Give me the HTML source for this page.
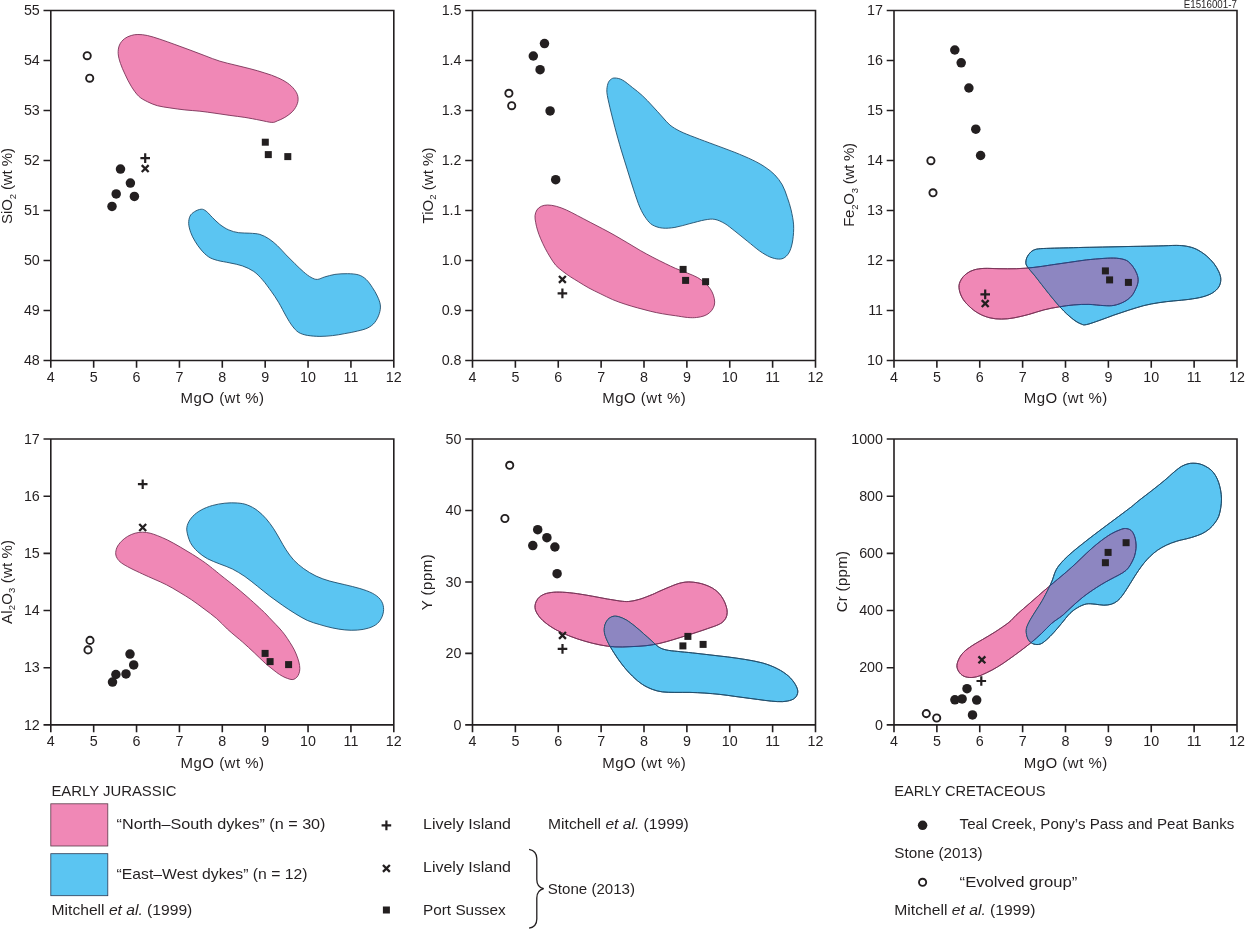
<!DOCTYPE html>
<html><head><meta charset="utf-8"><title>E1516001-7</title>
<style>html,body{margin:0;padding:0;background:#fff}svg{display:block;will-change:transform;opacity:.999}text{font-family:"Liberation Sans",sans-serif;fill:#231f20}.t{font-size:14.3px}.a{font-size:15px}.l{font-size:15px}.i{font-style:italic}</style></head><body>
<svg width="1245" height="929" viewBox="0 0 1245 929">
<rect width="1245" height="929" fill="#fff"/>
<g>
<path d="M137.9 34.5C140.6 34.5 143.8 34.7 147.4 35.5C151.1 36.3 155.3 37.7 159.9 39.2C164.5 40.7 169.9 42.7 174.9 44.5C179.9 46.3 184.9 48.1 189.9 50C194.9 51.8 199.9 53.8 204.9 55.7C209.9 57.6 214.9 59.7 219.9 61.2C224.9 62.8 229.9 63.7 234.9 65C239.9 66.2 244.9 67.4 249.9 68.7C254.9 70 260.3 71.5 264.8 73C269.4 74.4 273.6 75.8 277.3 77.5C281.1 79.1 284.5 81 287.3 82.9C290.2 84.9 292.6 87.2 294.3 89.4C296.1 91.7 297.3 93.8 297.8 96.2C298.3 98.6 298.2 101.2 297.3 103.7C296.5 106.2 294.9 108.9 292.8 111.2C290.7 113.5 287.4 115.8 284.8 117.4C282.2 119 279.5 120.1 277.3 120.9C275.2 121.8 274.8 122.5 271.8 122.4C268.9 122.3 264.3 121 259.9 120.2C255.4 119.3 249.9 118.2 244.9 117.4C239.9 116.6 234.9 116.1 229.9 115.4C224.9 114.7 219.9 113.9 214.9 113.2C209.9 112.5 204.9 111.7 199.9 111.2C194.9 110.6 189.9 110.5 184.9 109.9C179.9 109.4 174.5 108.6 169.9 107.9C165.3 107.2 161.2 106.7 157.4 105.7C153.7 104.6 150.6 103.3 147.4 101.7C144.3 100.1 141.4 98.8 138.7 96.2C136 93.6 133.5 89.9 131.2 86.2C128.9 82.5 126.7 78 125 74.2C123.2 70.4 121.6 66.9 120.5 63.5C119.3 60 118.4 56.8 118.2 53.7C118 50.6 118.4 47.5 119.5 45C120.5 42.5 122.5 40.3 124.5 38.7C126.4 37.2 128.9 36.2 131.2 35.5C133.4 34.8 135.2 34.5 137.9 34.5Z" fill="#f088b6" stroke="#7a3358" stroke-width="0.9"/>
<path d="M201.2 209.2C203.2 209.1 204.3 209.8 206.2 211.2C208.1 212.6 210.2 215.3 212.4 217.5C214.7 219.7 217.2 222.4 219.9 224.5C222.6 226.5 225.6 228.6 228.7 229.9C231.8 231.3 235.1 232.2 238.7 232.7C242.2 233.2 246.4 232.9 249.9 233.2C253.5 233.5 256.8 233.5 259.9 234.4C263 235.4 265.7 236.8 268.7 238.7C271.6 240.6 274.5 243 277.4 245.7C280.3 248.4 283.2 251.9 286.1 254.9C289.1 257.9 292 260.8 294.9 263.7C297.8 266.5 300.9 269.6 303.6 271.9C306.3 274.2 308.8 276.2 311.1 277.4C313.4 278.7 315.1 279.5 317.4 279.4C319.7 279.3 321.9 277.7 324.9 276.9C327.8 276.1 331.1 275 334.9 274.4C338.6 273.9 343.4 273.6 347.3 273.7C351.3 273.7 355.5 274 358.6 274.9C361.7 275.9 363.8 277.3 366.1 279.4C368.4 281.5 370.5 284.6 372.3 287.4C374.2 290.2 376 293.2 377.3 296.1C378.7 299.1 380 302 380.3 304.9C380.7 307.8 380.2 310.7 379.3 313.6C378.4 316.5 376.7 320 374.8 322.4C372.9 324.8 370.7 326.4 367.8 327.9C364.9 329.3 361.2 330.2 357.3 331.1C353.5 332.1 349 332.9 344.8 333.6C340.7 334.4 336.5 335.2 332.4 335.6C328.2 336.1 324 336.4 319.9 336.4C315.7 336.3 310.9 336 307.4 335.4C303.8 334.7 301.1 333.9 298.6 332.4C296.1 330.8 294.5 328.8 292.4 326.1C290.3 323.4 288.4 320.1 286.1 316.1C283.9 312.2 281.1 306.6 278.6 302.4C276.1 298.2 273.9 294.9 271.2 291.2C268.4 287.4 265.3 282.9 262.4 279.7C259.5 276.4 257 273.7 253.7 271.4C250.3 269.1 246.4 267.3 242.4 265.9C238.5 264.5 234.1 263.8 229.9 262.9C225.8 262 221 261.4 217.4 260.4C213.9 259.4 211.4 258.7 208.7 256.9C206 255.2 203.5 252.6 201.2 249.9C198.9 247.3 196.7 244.1 195 241.2C193.2 238.3 191.8 235.4 190.7 232.4C189.7 229.5 188.8 226.4 188.7 223.7C188.6 221 189 218.2 190 216.2C190.9 214.2 192.6 212.9 194.5 211.7C196.3 210.5 199.2 209.3 201.2 209.2Z" fill="#5bc5f2" stroke="#1f4d6b" stroke-width="0.9"/>
<path d="M50.8 10.5H393.8V360.5H50.8ZM50.8 360.5v7.3M93.67 360.5v7.3M136.55 360.5v7.3M179.43 360.5v7.3M222.3 360.5v7.3M265.18 360.5v7.3M308.05 360.5v7.3M350.93 360.5v7.3M393.8 360.5v7.3M50.8 10.5h-7.3M50.8 60.5h-7.3M50.8 110.5h-7.3M50.8 160.5h-7.3M50.8 210.5h-7.3M50.8 260.5h-7.3M50.8 310.5h-7.3M50.8 360.5h-7.3" fill="none" stroke="#231f20" stroke-width="1.6"/>
<text class="t" x="50.8" y="381.6" text-anchor="middle">4</text>
<text class="t" x="93.67" y="381.6" text-anchor="middle">5</text>
<text class="t" x="136.55" y="381.6" text-anchor="middle">6</text>
<text class="t" x="179.43" y="381.6" text-anchor="middle">7</text>
<text class="t" x="222.3" y="381.6" text-anchor="middle">8</text>
<text class="t" x="265.18" y="381.6" text-anchor="middle">9</text>
<text class="t" x="308.05" y="381.6" text-anchor="middle">10</text>
<text class="t" x="350.93" y="381.6" text-anchor="middle">11</text>
<text class="t" x="393.8" y="381.6" text-anchor="middle">12</text>
<text class="t" x="39.8" y="15.1" text-anchor="end">55</text>
<text class="t" x="39.8" y="65.1" text-anchor="end">54</text>
<text class="t" x="39.8" y="115.1" text-anchor="end">53</text>
<text class="t" x="39.8" y="165.1" text-anchor="end">52</text>
<text class="t" x="39.8" y="215.1" text-anchor="end">51</text>
<text class="t" x="39.8" y="265.1" text-anchor="end">50</text>
<text class="t" x="39.8" y="315.1" text-anchor="end">49</text>
<text class="t" x="39.8" y="365.1" text-anchor="end">48</text>
<text class="a" x="222.3" y="403.3" text-anchor="middle" textLength="83.5" lengthAdjust="spacing">MgO (wt %)</text>
<text class="a" transform="translate(12.2 186) rotate(-90)" text-anchor="middle" textLength="76" lengthAdjust="spacing">SiO<tspan dy="3.5" font-size="9.5">2</tspan><tspan dy="-3.5"> (wt %)</tspan></text>
<circle cx="87.2" cy="55.7" r="3.6" fill="#fff" stroke="#231f20" stroke-width="1.9"/>
<circle cx="89.7" cy="78.2" r="3.6" fill="#fff" stroke="#231f20" stroke-width="1.9"/>
<circle cx="120.5" cy="169.1" r="4.75" fill="#231f20"/>
<circle cx="130.4" cy="183.1" r="4.75" fill="#231f20"/>
<circle cx="116.2" cy="193.9" r="4.75" fill="#231f20"/>
<circle cx="134.4" cy="196.4" r="4.75" fill="#231f20"/>
<circle cx="112" cy="206.4" r="4.75" fill="#231f20"/>
<path d="M140.4 158.1h9.6M145.2 153.3v9.6" stroke="#231f20" stroke-width="2.2" fill="none"/>
<path d="M141.75 165.15l6.9 6.9M141.75 172.05l6.9 -6.9" stroke="#231f20" stroke-width="2.3" fill="none"/>
<rect x="261.8" y="138.7" width="7" height="7" fill="#231f20"/>
<rect x="264.8" y="151.1" width="7" height="7" fill="#231f20"/>
<rect x="284.3" y="153.1" width="7" height="7" fill="#231f20"/>
</g>
<g>
<path d="M614.9 78C616.9 78.1 619.5 78.4 622.4 80C625.4 81.6 629.1 84.9 632.4 87.5C635.8 90.1 639.1 92.6 642.4 95.7C645.8 98.8 649.1 102.4 652.4 106C655.7 109.5 659.5 113.8 662.4 117C665.3 120.1 667 122.6 669.9 125C672.8 127.3 675.7 129.1 679.9 131.2C684.1 133.3 689.1 135.2 694.9 137.4C700.7 139.7 708.2 142.4 714.9 144.9C721.5 147.4 728.6 149.9 734.9 152.4C741.1 154.9 747.3 157.5 752.3 159.9C757.3 162.3 761.1 164.4 764.8 166.9C768.6 169.4 771.9 171.9 774.8 174.9C777.7 177.9 780.2 181.2 782.3 184.9C784.4 188.7 785.9 193.2 787.3 197.4C788.8 201.6 790 205.3 791.1 209.9C792.1 214.5 793.3 219.9 793.6 224.9C793.9 229.9 793.4 235.5 792.8 239.9C792.2 244.2 791.1 248.2 789.8 251.1C788.5 254 786.7 256 784.8 257.4C782.9 258.7 781.1 259.2 778.6 259.1C776.1 259 773 258.2 769.8 256.9C766.7 255.5 763.6 253.7 759.8 251.1C756.1 248.5 751.5 244.4 747.3 241.1C743.2 237.8 738.6 234 734.9 231.1C731.1 228.2 728.2 225.6 724.9 223.6C721.5 221.7 718.2 220 714.9 219.4C711.5 218.8 709 219.2 704.9 219.9C700.7 220.6 694.9 222.4 689.9 223.6C684.9 224.9 679.5 226.6 674.9 227.4C670.3 228.1 666.2 228.5 662.4 228.1C658.7 227.7 655.1 226.5 652.4 224.9C649.7 223.3 648.3 221.5 646.2 218.6C644.1 215.7 642 212.2 639.9 207.4C637.8 202.6 635.8 196.1 633.7 189.9C631.6 183.7 629.5 176.6 627.4 169.9C625.4 163.3 623.3 157 621.2 149.9C619.1 142.9 616.8 134.5 614.9 127.4C613.1 120.4 611.3 113.3 609.9 107.5C608.6 101.6 607.3 96.4 606.9 92.5C606.6 88.5 607.3 85.9 607.9 83.7C608.6 81.6 609.5 80.4 610.7 79.5C611.9 78.5 613 77.9 614.9 78Z" fill="#5bc5f2" stroke="#1f4d6b" stroke-width="0.9"/>
<path d="M547.6 205C550.1 205 553.2 205.5 556.3 206.3C559.4 207.1 562.8 208.4 566.4 210C570 211.6 573.6 213.6 577.6 215.7C581.6 217.8 586 220.1 590.2 222.3C594.4 224.5 598.5 226.6 602.7 228.8C606.9 231 611 233.2 615.2 235.6C619.4 238 623.6 240.5 627.8 243C632 245.5 636.1 248.1 640.3 250.5C644.5 252.9 648.6 255.1 652.8 257.3C657 259.5 661.6 261.8 665.4 263.6C669.1 265.4 671.6 266.7 675.3 268.3C679 269.9 684 271.6 687.7 273.2C691.4 274.8 694.8 275.9 697.7 277.6C700.6 279.3 703.2 281.4 705.3 283.3C707.4 285.2 708.9 286.9 710.3 288.9C711.6 290.9 712.7 293 713.4 295.2C714.1 297.4 714.7 300 714.7 302.1C714.7 304.2 714.2 305.9 713.4 307.7C712.5 309.5 711.2 311.3 709.6 312.7C708 314.1 706.2 315.1 704 315.9C701.8 316.7 699.2 317.2 696.5 317.5C693.8 317.8 691.2 317.8 687.7 317.5C684.2 317.2 679.5 316.3 675.3 315.7C671.1 315.1 666.9 314.6 662.7 313.8C658.5 313.1 654.4 312.2 650.2 311.2C646 310.2 641.9 309.1 637.7 307.9C633.5 306.7 629.4 305.6 625.2 304.2C621 302.8 616.8 301.4 612.6 299.6C608.4 297.8 604.1 295.5 600.1 293.6C596.1 291.7 592.4 289.9 588.9 288C585.4 286.1 582 283.9 578.9 282C575.8 280.1 572.8 278.4 570.1 276.6C567.4 274.8 565 273.1 562.6 271.2C560.2 269.3 557.8 267.6 555.7 265.2C553.6 262.8 551.9 259.8 550.1 257C548.3 254.2 546.7 251.2 545.1 248.2C543.5 245.2 542 241.8 540.7 238.8C539.4 235.8 538.3 232.8 537.5 230.1C536.7 227.4 536.1 225 535.7 222.6C535.3 220.2 534.8 217.8 535 215.7C535.2 213.6 535.9 211.6 536.9 210C537.9 208.4 539.5 207.1 541.3 206.3C543.1 205.5 545.1 205 547.6 205Z" fill="#f088b6" stroke="#7a3358" stroke-width="0.9"/>
<path d="M472.5 10.5H815.5V360.5H472.5ZM472.5 360.5v7.3M515.38 360.5v7.3M558.25 360.5v7.3M601.12 360.5v7.3M644 360.5v7.3M686.88 360.5v7.3M729.75 360.5v7.3M772.62 360.5v7.3M815.5 360.5v7.3M472.5 10.5h-7.3M472.5 60.5h-7.3M472.5 110.5h-7.3M472.5 160.5h-7.3M472.5 210.5h-7.3M472.5 260.5h-7.3M472.5 310.5h-7.3M472.5 360.5h-7.3" fill="none" stroke="#231f20" stroke-width="1.6"/>
<text class="t" x="472.5" y="381.6" text-anchor="middle">4</text>
<text class="t" x="515.38" y="381.6" text-anchor="middle">5</text>
<text class="t" x="558.25" y="381.6" text-anchor="middle">6</text>
<text class="t" x="601.12" y="381.6" text-anchor="middle">7</text>
<text class="t" x="644" y="381.6" text-anchor="middle">8</text>
<text class="t" x="686.88" y="381.6" text-anchor="middle">9</text>
<text class="t" x="729.75" y="381.6" text-anchor="middle">10</text>
<text class="t" x="772.62" y="381.6" text-anchor="middle">11</text>
<text class="t" x="815.5" y="381.6" text-anchor="middle">12</text>
<text class="t" x="461.5" y="15.1" text-anchor="end">1.5</text>
<text class="t" x="461.5" y="65.1" text-anchor="end">1.4</text>
<text class="t" x="461.5" y="115.1" text-anchor="end">1.3</text>
<text class="t" x="461.5" y="165.1" text-anchor="end">1.2</text>
<text class="t" x="461.5" y="215.1" text-anchor="end">1.1</text>
<text class="t" x="461.5" y="265.1" text-anchor="end">1.0</text>
<text class="t" x="461.5" y="315.1" text-anchor="end">0.9</text>
<text class="t" x="461.5" y="365.1" text-anchor="end">0.8</text>
<text class="a" x="644" y="403.3" text-anchor="middle" textLength="83.5" lengthAdjust="spacing">MgO (wt %)</text>
<text class="a" transform="translate(432.7 185.5) rotate(-90)" text-anchor="middle" textLength="76" lengthAdjust="spacing">TiO<tspan dy="3.5" font-size="9.5">2</tspan><tspan dy="-3.5"> (wt %)</tspan></text>
<circle cx="508.9" cy="93.3" r="3.6" fill="#fff" stroke="#231f20" stroke-width="1.9"/>
<circle cx="511.7" cy="105.7" r="3.6" fill="#fff" stroke="#231f20" stroke-width="1.9"/>
<circle cx="544.5" cy="43.6" r="4.75" fill="#231f20"/>
<circle cx="533.3" cy="56" r="4.75" fill="#231f20"/>
<circle cx="540.1" cy="69.7" r="4.75" fill="#231f20"/>
<circle cx="550.1" cy="110.9" r="4.75" fill="#231f20"/>
<circle cx="555.7" cy="179.7" r="4.75" fill="#231f20"/>
<path d="M558.95 275.95l6.9 6.9M558.95 282.85l6.9 -6.9" stroke="#231f20" stroke-width="2.3" fill="none"/>
<path d="M557.6 293.4h9.6M562.4 288.6v9.6" stroke="#231f20" stroke-width="2.2" fill="none"/>
<rect x="679.6" y="265.9" width="7" height="7" fill="#231f20"/>
<rect x="682.1" y="276.9" width="7" height="7" fill="#231f20"/>
<rect x="702.1" y="278.2" width="7" height="7" fill="#231f20"/>
</g>
<g>
<path d="M959 287.4C958.8 284.5 959.7 282.2 961 279.9C962.2 277.6 964.3 275.3 966.5 273.7C968.6 272 971.1 270.8 974 269.9C976.9 269.1 979.8 268.6 984 268.4C988.1 268.2 993.5 268.6 999 268.7C1004.4 268.7 1010.6 268.9 1016.4 268.7C1022.3 268.5 1028.1 268.1 1033.9 267.4C1039.8 266.8 1045.6 265.8 1051.4 264.9C1057.2 264.1 1063.1 263.3 1068.9 262.4C1074.7 261.6 1080.6 260.6 1086.4 259.9C1092.2 259.3 1098.9 258.7 1103.9 258.4C1108.9 258.1 1112.6 257.9 1116.4 258.2C1120.1 258.5 1123.6 259.1 1126.4 260.4C1129.1 261.8 1130.9 264 1132.6 266.2C1134.3 268.4 1135.9 271.2 1136.8 273.7C1137.8 276.2 1138.3 278.7 1138.1 281.2C1137.9 283.7 1137 286.2 1135.8 288.7C1134.7 291.2 1133.4 293.9 1131.4 296.2C1129.4 298.4 1126.8 300.4 1123.9 301.9C1120.9 303.4 1117.2 304.8 1113.9 305.4C1110.5 306 1108 305.8 1103.9 305.6C1099.7 305.5 1093.9 304.5 1088.9 304.4C1083.9 304.3 1078.9 304.5 1073.9 304.9C1068.9 305.3 1063.9 306.1 1058.9 306.9C1053.9 307.7 1048.9 308.6 1043.9 309.9C1038.9 311.1 1033.9 313.1 1028.9 314.4C1023.9 315.7 1018.5 317.1 1013.9 317.9C1009.4 318.7 1005.4 319.1 1001.4 319.1C997.5 319.1 994 318.8 990.2 317.9C986.5 317 982.5 315.6 979 313.6C975.4 311.7 971.8 308.9 969 306.1C966.1 303.4 963.6 300.5 962 297.4C960.3 294.3 959.1 290.3 959 287.4Z" fill="#f088b6" stroke="#7a3358" stroke-width="0.9"/>
<path d="M1025.9 263.7C1025.6 261.8 1026.1 259.4 1026.9 257.4C1027.8 255.5 1029.3 253.3 1030.9 251.9C1032.5 250.6 1033.8 249.8 1036.4 249.2C1039 248.6 1041.8 248.6 1046.4 248.4C1051 248.2 1057.7 248.1 1063.9 247.9C1070.1 247.8 1076.4 247.6 1083.9 247.4C1091.4 247.3 1100.5 247.1 1108.9 246.9C1117.2 246.8 1125.5 246.6 1133.9 246.4C1142.2 246.3 1151.8 246.1 1158.8 245.9C1165.9 245.8 1171.7 245.4 1176.3 245.4C1180.9 245.5 1183 245.6 1186.3 246.2C1189.6 246.8 1193 247.6 1196.3 249.2C1199.6 250.8 1203.4 253.3 1206.3 255.7C1209.2 258.1 1211.7 260.8 1213.8 263.4C1215.9 266.1 1217.6 269 1218.8 271.7C1220 274.3 1220.8 276.9 1220.8 279.4C1220.8 282 1220.2 284.7 1218.8 286.9C1217.4 289.2 1215.2 291.2 1212.5 292.9C1209.8 294.6 1206.5 295.8 1202.5 296.9C1198.6 298 1193.6 298.7 1188.8 299.4C1184 300.1 1178.8 300.4 1173.8 300.9C1168.8 301.4 1163.8 301.9 1158.8 302.7C1153.8 303.4 1148.8 304.4 1143.8 305.6C1138.8 306.9 1133.9 308.6 1128.9 310.1C1123.9 311.7 1118.9 313.4 1113.9 315.1C1108.9 316.9 1103.5 319.1 1098.9 320.6C1094.3 322.2 1089.3 324.1 1086.4 324.6C1083.5 325.2 1083.5 324.9 1081.4 324.1C1079.3 323.3 1076.8 322.1 1073.9 319.9C1071 317.7 1067.2 314.5 1063.9 311.1C1060.6 307.8 1057.2 303.9 1053.9 299.9C1050.6 295.9 1047 291.4 1043.9 287.4C1040.8 283.5 1037.7 279.3 1035.2 276.2C1032.7 273 1030.5 270.8 1028.9 268.7C1027.4 266.6 1026.3 265.6 1025.9 263.7Z" fill="#5bc5f2" stroke="#1f4d6b" stroke-width="0.9"/>
<clipPath id="cp2"><path d="M959 287.4C958.8 284.5 959.7 282.2 961 279.9C962.2 277.6 964.3 275.3 966.5 273.7C968.6 272 971.1 270.8 974 269.9C976.9 269.1 979.8 268.6 984 268.4C988.1 268.2 993.5 268.6 999 268.7C1004.4 268.7 1010.6 268.9 1016.4 268.7C1022.3 268.5 1028.1 268.1 1033.9 267.4C1039.8 266.8 1045.6 265.8 1051.4 264.9C1057.2 264.1 1063.1 263.3 1068.9 262.4C1074.7 261.6 1080.6 260.6 1086.4 259.9C1092.2 259.3 1098.9 258.7 1103.9 258.4C1108.9 258.1 1112.6 257.9 1116.4 258.2C1120.1 258.5 1123.6 259.1 1126.4 260.4C1129.1 261.8 1130.9 264 1132.6 266.2C1134.3 268.4 1135.9 271.2 1136.8 273.7C1137.8 276.2 1138.3 278.7 1138.1 281.2C1137.9 283.7 1137 286.2 1135.8 288.7C1134.7 291.2 1133.4 293.9 1131.4 296.2C1129.4 298.4 1126.8 300.4 1123.9 301.9C1120.9 303.4 1117.2 304.8 1113.9 305.4C1110.5 306 1108 305.8 1103.9 305.6C1099.7 305.5 1093.9 304.5 1088.9 304.4C1083.9 304.3 1078.9 304.5 1073.9 304.9C1068.9 305.3 1063.9 306.1 1058.9 306.9C1053.9 307.7 1048.9 308.6 1043.9 309.9C1038.9 311.1 1033.9 313.1 1028.9 314.4C1023.9 315.7 1018.5 317.1 1013.9 317.9C1009.4 318.7 1005.4 319.1 1001.4 319.1C997.5 319.1 994 318.8 990.2 317.9C986.5 317 982.5 315.6 979 313.6C975.4 311.7 971.8 308.9 969 306.1C966.1 303.4 963.6 300.5 962 297.4C960.3 294.3 959.1 290.3 959 287.4Z"/></clipPath><clipPath id="cq2"><path d="M1025.9 263.7C1025.6 261.8 1026.1 259.4 1026.9 257.4C1027.8 255.5 1029.3 253.3 1030.9 251.9C1032.5 250.6 1033.8 249.8 1036.4 249.2C1039 248.6 1041.8 248.6 1046.4 248.4C1051 248.2 1057.7 248.1 1063.9 247.9C1070.1 247.8 1076.4 247.6 1083.9 247.4C1091.4 247.3 1100.5 247.1 1108.9 246.9C1117.2 246.8 1125.5 246.6 1133.9 246.4C1142.2 246.3 1151.8 246.1 1158.8 245.9C1165.9 245.8 1171.7 245.4 1176.3 245.4C1180.9 245.5 1183 245.6 1186.3 246.2C1189.6 246.8 1193 247.6 1196.3 249.2C1199.6 250.8 1203.4 253.3 1206.3 255.7C1209.2 258.1 1211.7 260.8 1213.8 263.4C1215.9 266.1 1217.6 269 1218.8 271.7C1220 274.3 1220.8 276.9 1220.8 279.4C1220.8 282 1220.2 284.7 1218.8 286.9C1217.4 289.2 1215.2 291.2 1212.5 292.9C1209.8 294.6 1206.5 295.8 1202.5 296.9C1198.6 298 1193.6 298.7 1188.8 299.4C1184 300.1 1178.8 300.4 1173.8 300.9C1168.8 301.4 1163.8 301.9 1158.8 302.7C1153.8 303.4 1148.8 304.4 1143.8 305.6C1138.8 306.9 1133.9 308.6 1128.9 310.1C1123.9 311.7 1118.9 313.4 1113.9 315.1C1108.9 316.9 1103.5 319.1 1098.9 320.6C1094.3 322.2 1089.3 324.1 1086.4 324.6C1083.5 325.2 1083.5 324.9 1081.4 324.1C1079.3 323.3 1076.8 322.1 1073.9 319.9C1071 317.7 1067.2 314.5 1063.9 311.1C1060.6 307.8 1057.2 303.9 1053.9 299.9C1050.6 295.9 1047 291.4 1043.9 287.4C1040.8 283.5 1037.7 279.3 1035.2 276.2C1032.7 273 1030.5 270.8 1028.9 268.7C1027.4 266.6 1026.3 265.6 1025.9 263.7Z"/></clipPath><path d="M1025.9 263.7C1025.6 261.8 1026.1 259.4 1026.9 257.4C1027.8 255.5 1029.3 253.3 1030.9 251.9C1032.5 250.6 1033.8 249.8 1036.4 249.2C1039 248.6 1041.8 248.6 1046.4 248.4C1051 248.2 1057.7 248.1 1063.9 247.9C1070.1 247.8 1076.4 247.6 1083.9 247.4C1091.4 247.3 1100.5 247.1 1108.9 246.9C1117.2 246.8 1125.5 246.6 1133.9 246.4C1142.2 246.3 1151.8 246.1 1158.8 245.9C1165.9 245.8 1171.7 245.4 1176.3 245.4C1180.9 245.5 1183 245.6 1186.3 246.2C1189.6 246.8 1193 247.6 1196.3 249.2C1199.6 250.8 1203.4 253.3 1206.3 255.7C1209.2 258.1 1211.7 260.8 1213.8 263.4C1215.9 266.1 1217.6 269 1218.8 271.7C1220 274.3 1220.8 276.9 1220.8 279.4C1220.8 282 1220.2 284.7 1218.8 286.9C1217.4 289.2 1215.2 291.2 1212.5 292.9C1209.8 294.6 1206.5 295.8 1202.5 296.9C1198.6 298 1193.6 298.7 1188.8 299.4C1184 300.1 1178.8 300.4 1173.8 300.9C1168.8 301.4 1163.8 301.9 1158.8 302.7C1153.8 303.4 1148.8 304.4 1143.8 305.6C1138.8 306.9 1133.9 308.6 1128.9 310.1C1123.9 311.7 1118.9 313.4 1113.9 315.1C1108.9 316.9 1103.5 319.1 1098.9 320.6C1094.3 322.2 1089.3 324.1 1086.4 324.6C1083.5 325.2 1083.5 324.9 1081.4 324.1C1079.3 323.3 1076.8 322.1 1073.9 319.9C1071 317.7 1067.2 314.5 1063.9 311.1C1060.6 307.8 1057.2 303.9 1053.9 299.9C1050.6 295.9 1047 291.4 1043.9 287.4C1040.8 283.5 1037.7 279.3 1035.2 276.2C1032.7 273 1030.5 270.8 1028.9 268.7C1027.4 266.6 1026.3 265.6 1025.9 263.7Z" fill="#8d86c1" clip-path="url(#cp2)"/><path d="M959 287.4C958.8 284.5 959.7 282.2 961 279.9C962.2 277.6 964.3 275.3 966.5 273.7C968.6 272 971.1 270.8 974 269.9C976.9 269.1 979.8 268.6 984 268.4C988.1 268.2 993.5 268.6 999 268.7C1004.4 268.7 1010.6 268.9 1016.4 268.7C1022.3 268.5 1028.1 268.1 1033.9 267.4C1039.8 266.8 1045.6 265.8 1051.4 264.9C1057.2 264.1 1063.1 263.3 1068.9 262.4C1074.7 261.6 1080.6 260.6 1086.4 259.9C1092.2 259.3 1098.9 258.7 1103.9 258.4C1108.9 258.1 1112.6 257.9 1116.4 258.2C1120.1 258.5 1123.6 259.1 1126.4 260.4C1129.1 261.8 1130.9 264 1132.6 266.2C1134.3 268.4 1135.9 271.2 1136.8 273.7C1137.8 276.2 1138.3 278.7 1138.1 281.2C1137.9 283.7 1137 286.2 1135.8 288.7C1134.7 291.2 1133.4 293.9 1131.4 296.2C1129.4 298.4 1126.8 300.4 1123.9 301.9C1120.9 303.4 1117.2 304.8 1113.9 305.4C1110.5 306 1108 305.8 1103.9 305.6C1099.7 305.5 1093.9 304.5 1088.9 304.4C1083.9 304.3 1078.9 304.5 1073.9 304.9C1068.9 305.3 1063.9 306.1 1058.9 306.9C1053.9 307.7 1048.9 308.6 1043.9 309.9C1038.9 311.1 1033.9 313.1 1028.9 314.4C1023.9 315.7 1018.5 317.1 1013.9 317.9C1009.4 318.7 1005.4 319.1 1001.4 319.1C997.5 319.1 994 318.8 990.2 317.9C986.5 317 982.5 315.6 979 313.6C975.4 311.7 971.8 308.9 969 306.1C966.1 303.4 963.6 300.5 962 297.4C960.3 294.3 959.1 290.3 959 287.4Z" fill="none" stroke="#7a3358" stroke-width="0.9"/><path d="M1025.9 263.7C1025.6 261.8 1026.1 259.4 1026.9 257.4C1027.8 255.5 1029.3 253.3 1030.9 251.9C1032.5 250.6 1033.8 249.8 1036.4 249.2C1039 248.6 1041.8 248.6 1046.4 248.4C1051 248.2 1057.7 248.1 1063.9 247.9C1070.1 247.8 1076.4 247.6 1083.9 247.4C1091.4 247.3 1100.5 247.1 1108.9 246.9C1117.2 246.8 1125.5 246.6 1133.9 246.4C1142.2 246.3 1151.8 246.1 1158.8 245.9C1165.9 245.8 1171.7 245.4 1176.3 245.4C1180.9 245.5 1183 245.6 1186.3 246.2C1189.6 246.8 1193 247.6 1196.3 249.2C1199.6 250.8 1203.4 253.3 1206.3 255.7C1209.2 258.1 1211.7 260.8 1213.8 263.4C1215.9 266.1 1217.6 269 1218.8 271.7C1220 274.3 1220.8 276.9 1220.8 279.4C1220.8 282 1220.2 284.7 1218.8 286.9C1217.4 289.2 1215.2 291.2 1212.5 292.9C1209.8 294.6 1206.5 295.8 1202.5 296.9C1198.6 298 1193.6 298.7 1188.8 299.4C1184 300.1 1178.8 300.4 1173.8 300.9C1168.8 301.4 1163.8 301.9 1158.8 302.7C1153.8 303.4 1148.8 304.4 1143.8 305.6C1138.8 306.9 1133.9 308.6 1128.9 310.1C1123.9 311.7 1118.9 313.4 1113.9 315.1C1108.9 316.9 1103.5 319.1 1098.9 320.6C1094.3 322.2 1089.3 324.1 1086.4 324.6C1083.5 325.2 1083.5 324.9 1081.4 324.1C1079.3 323.3 1076.8 322.1 1073.9 319.9C1071 317.7 1067.2 314.5 1063.9 311.1C1060.6 307.8 1057.2 303.9 1053.9 299.9C1050.6 295.9 1047 291.4 1043.9 287.4C1040.8 283.5 1037.7 279.3 1035.2 276.2C1032.7 273 1030.5 270.8 1028.9 268.7C1027.4 266.6 1026.3 265.6 1025.9 263.7Z" fill="none" stroke="#1f4d6b" stroke-width="0.9"/><path d="M959 287.4C958.8 284.5 959.7 282.2 961 279.9C962.2 277.6 964.3 275.3 966.5 273.7C968.6 272 971.1 270.8 974 269.9C976.9 269.1 979.8 268.6 984 268.4C988.1 268.2 993.5 268.6 999 268.7C1004.4 268.7 1010.6 268.9 1016.4 268.7C1022.3 268.5 1028.1 268.1 1033.9 267.4C1039.8 266.8 1045.6 265.8 1051.4 264.9C1057.2 264.1 1063.1 263.3 1068.9 262.4C1074.7 261.6 1080.6 260.6 1086.4 259.9C1092.2 259.3 1098.9 258.7 1103.9 258.4C1108.9 258.1 1112.6 257.9 1116.4 258.2C1120.1 258.5 1123.6 259.1 1126.4 260.4C1129.1 261.8 1130.9 264 1132.6 266.2C1134.3 268.4 1135.9 271.2 1136.8 273.7C1137.8 276.2 1138.3 278.7 1138.1 281.2C1137.9 283.7 1137 286.2 1135.8 288.7C1134.7 291.2 1133.4 293.9 1131.4 296.2C1129.4 298.4 1126.8 300.4 1123.9 301.9C1120.9 303.4 1117.2 304.8 1113.9 305.4C1110.5 306 1108 305.8 1103.9 305.6C1099.7 305.5 1093.9 304.5 1088.9 304.4C1083.9 304.3 1078.9 304.5 1073.9 304.9C1068.9 305.3 1063.9 306.1 1058.9 306.9C1053.9 307.7 1048.9 308.6 1043.9 309.9C1038.9 311.1 1033.9 313.1 1028.9 314.4C1023.9 315.7 1018.5 317.1 1013.9 317.9C1009.4 318.7 1005.4 319.1 1001.4 319.1C997.5 319.1 994 318.8 990.2 317.9C986.5 317 982.5 315.6 979 313.6C975.4 311.7 971.8 308.9 969 306.1C966.1 303.4 963.6 300.5 962 297.4C960.3 294.3 959.1 290.3 959 287.4Z" fill="none" stroke="#1d4a86" stroke-width="1" clip-path="url(#cq2)"/>
<path d="M894 10.5H1237V360.5H894ZM894 360.5v7.3M936.88 360.5v7.3M979.75 360.5v7.3M1022.62 360.5v7.3M1065.5 360.5v7.3M1108.38 360.5v7.3M1151.25 360.5v7.3M1194.12 360.5v7.3M1237 360.5v7.3M894 10.5h-7.3M894 60.5h-7.3M894 110.5h-7.3M894 160.5h-7.3M894 210.5h-7.3M894 260.5h-7.3M894 310.5h-7.3M894 360.5h-7.3" fill="none" stroke="#231f20" stroke-width="1.6"/>
<text class="t" x="894" y="381.6" text-anchor="middle">4</text>
<text class="t" x="936.88" y="381.6" text-anchor="middle">5</text>
<text class="t" x="979.75" y="381.6" text-anchor="middle">6</text>
<text class="t" x="1022.62" y="381.6" text-anchor="middle">7</text>
<text class="t" x="1065.5" y="381.6" text-anchor="middle">8</text>
<text class="t" x="1108.38" y="381.6" text-anchor="middle">9</text>
<text class="t" x="1151.25" y="381.6" text-anchor="middle">10</text>
<text class="t" x="1194.12" y="381.6" text-anchor="middle">11</text>
<text class="t" x="1237" y="381.6" text-anchor="middle">12</text>
<text class="t" x="883" y="15.1" text-anchor="end">17</text>
<text class="t" x="883" y="65.1" text-anchor="end">16</text>
<text class="t" x="883" y="115.1" text-anchor="end">15</text>
<text class="t" x="883" y="165.1" text-anchor="end">14</text>
<text class="t" x="883" y="215.1" text-anchor="end">13</text>
<text class="t" x="883" y="265.1" text-anchor="end">12</text>
<text class="t" x="883" y="315.1" text-anchor="end">11</text>
<text class="t" x="883" y="365.1" text-anchor="end">10</text>
<text class="a" x="1065.5" y="403.3" text-anchor="middle" textLength="83.5" lengthAdjust="spacing">MgO (wt %)</text>
<text class="a" transform="translate(854.3 184.9) rotate(-90)" text-anchor="middle" textLength="83.9" lengthAdjust="spacing">Fe<tspan dy="3.5" font-size="9.5">2</tspan><tspan dy="-3.5">O</tspan><tspan dy="3.5" font-size="9.5">3</tspan><tspan dy="-3.5"> (wt %)</tspan></text>
<circle cx="954.8" cy="50" r="4.75" fill="#231f20"/>
<circle cx="961.2" cy="62.8" r="4.75" fill="#231f20"/>
<circle cx="968.9" cy="88" r="4.75" fill="#231f20"/>
<circle cx="975.8" cy="129.2" r="4.75" fill="#231f20"/>
<circle cx="980.6" cy="155.5" r="4.75" fill="#231f20"/>
<circle cx="930.9" cy="160.7" r="3.6" fill="#fff" stroke="#231f20" stroke-width="1.9"/>
<circle cx="933" cy="192.8" r="3.6" fill="#fff" stroke="#231f20" stroke-width="1.9"/>
<path d="M980.4 294.4h9.6M985.2 289.6v9.6" stroke="#231f20" stroke-width="2.2" fill="none"/>
<path d="M981.75 300.15l6.9 6.9M981.75 307.05l6.9 -6.9" stroke="#231f20" stroke-width="2.3" fill="none"/>
<rect x="1101.9" y="267.4" width="7" height="7" fill="#231f20"/>
<rect x="1106.1" y="276.4" width="7" height="7" fill="#231f20"/>
<rect x="1124.9" y="278.9" width="7" height="7" fill="#231f20"/>
</g>
<g>
<path d="M115.7 553.9C115.6 552.1 116 549.7 116.9 547.6C117.8 545.5 119.5 543.3 121.3 541.4C123.1 539.5 125.3 537.8 127.6 536.4C129.9 535 132.6 533.9 135.1 533.2C137.6 532.5 140.1 532.2 142.6 532.2C145.1 532.2 147.6 532.6 150.1 533.2C152.6 533.8 154.7 534.6 157.6 535.7C160.5 536.9 163.9 538.2 167.7 540.1C171.5 542 176 544.6 180.2 547C184.4 549.4 188.5 551.9 192.7 554.5C196.9 557.1 201.6 560.3 205.3 562.9C209 565.5 212 568.1 214.8 570.3C217.6 572.5 218.7 573.6 222 576.2C225.3 578.8 230.3 582.7 234.5 586.1C238.7 589.5 242.9 593.1 247.1 596.7C251.3 600.4 256.5 605.1 259.6 608C262.7 610.9 263.8 611.8 265.9 614C268 616.2 270.3 618.7 272.5 621C274.7 623.3 277.1 625.7 279.2 628C281.3 630.3 283.1 632.5 284.9 634.9C286.7 637.3 288.3 639.9 289.9 642.4C291.5 644.9 293 647.3 294.3 649.9C295.6 652.5 296.8 655.5 297.7 658.1C298.6 660.7 299.3 663.4 299.6 665.6C299.9 667.8 299.9 669.5 299.6 671.2C299.3 672.9 298.7 674.4 298 675.6C297.3 676.8 296.5 677.7 295.5 678.4C294.5 679.1 293.5 679.6 292.1 679.6C290.8 679.6 289 679 287.4 678.4C285.8 677.8 284.2 677.2 282.4 676.2C280.6 675.2 278.6 673.9 276.7 672.5C274.8 671.1 273 669.6 271.1 668.1C269.2 666.6 267.3 665.1 265.4 663.4C263.5 661.7 261.7 659.9 259.8 658.1C257.9 656.3 256.1 654.5 254.2 652.7C252.3 650.9 250.5 649.2 248.5 647.4C246.5 645.6 244.4 643.6 242.3 641.8C240.2 640 238.5 638.6 236 636.5C233.5 634.4 230.5 632 227.3 629C224.1 626 220.6 622 216.7 618.6C212.8 615.2 208.3 612 204.1 608.9C199.9 605.8 195.8 602.6 191.6 599.8C187.4 597 183.3 594.5 179.1 592C174.9 589.5 170.7 586.9 166.5 584.8C162.3 582.6 158 580.9 154 579.1C150 577.3 146.6 575.9 142.6 574C138.6 572.1 133.7 569.9 130.1 568C126.5 566.1 123.4 564.4 121.3 562.8C119.2 561.2 118.2 560 117.3 558.5C116.4 557 115.8 555.7 115.7 553.9Z" fill="#f088b6" stroke="#7a3358" stroke-width="0.9"/>
<path d="M186.9 531.2C186.5 528.1 186.9 526.2 187.9 523.7C188.9 521.2 190.7 518.5 192.9 516.2C195.1 513.9 197.9 511.8 201.2 510C204.4 508.2 208.5 506.6 212.4 505.5C216.4 504.4 220.7 503.6 224.9 503.2C229.1 502.8 233.6 502.7 237.4 503C241.1 503.3 244.1 503.7 247.4 505C250.7 506.2 254.3 508.2 257.4 510.5C260.5 512.8 263.4 515.7 266.1 518.7C268.8 521.8 271.3 525.3 273.6 528.7C275.9 532.1 277.8 535.8 279.9 539.3C281.9 542.8 283.8 546.5 286.1 549.9C288.4 553.3 290.7 556.8 293.6 559.9C296.5 563 299.9 565.9 303.6 568.6C307.3 571.3 311.7 574 316.1 576.1C320.5 578.2 325 579.7 329.8 581.1C334.6 582.5 339.8 583.4 344.8 584.7C349.8 585.9 355.2 587.1 359.8 588.5C364.4 589.9 368.9 591.4 372.3 593.2C375.7 595 378.4 597 380.3 599.4C382.2 601.8 383.2 604.6 383.5 607.4C383.9 610.2 383.3 613.4 382.3 616.1C381.2 618.9 379.6 621.6 377.3 623.6C375 625.6 371.9 627.1 368.5 628.1C365.2 629.2 361.3 629.8 357.3 630.1C353.4 630.4 349 630.3 344.8 629.9C340.7 629.5 336.5 628.8 332.3 627.9C328.2 627 324 625.9 319.8 624.6C315.7 623.4 311.5 622.3 307.3 620.4C303.2 618.5 299 615.9 294.9 613.4C290.7 610.9 286.5 608 282.4 605.2C278.2 602.3 274 599.3 269.9 596.2C265.7 593 261.5 589.4 257.4 586.2C253.2 582.9 249.1 579.4 244.9 576.5C240.7 573.7 236.6 571.1 232.4 569C228.2 566.9 224.1 565.7 219.9 564C215.7 562.3 211.2 560.8 207.4 558.7C203.7 556.6 200.3 554.1 197.4 551.4C194.6 548.8 192.2 546 190.4 542.6C188.7 539.2 187.4 534.4 186.9 531.2Z" fill="#5bc5f2" stroke="#1f4d6b" stroke-width="0.9"/>
<path d="M50.8 439H393.8V724.9H50.8ZM50.8 724.9v7.3M93.67 724.9v7.3M136.55 724.9v7.3M179.43 724.9v7.3M222.3 724.9v7.3M265.18 724.9v7.3M308.05 724.9v7.3M350.93 724.9v7.3M393.8 724.9v7.3M50.8 439h-7.3M50.8 496.18h-7.3M50.8 553.36h-7.3M50.8 610.54h-7.3M50.8 667.72h-7.3M50.8 724.9h-7.3" fill="none" stroke="#231f20" stroke-width="1.6"/>
<text class="t" x="50.8" y="746" text-anchor="middle">4</text>
<text class="t" x="93.67" y="746" text-anchor="middle">5</text>
<text class="t" x="136.55" y="746" text-anchor="middle">6</text>
<text class="t" x="179.43" y="746" text-anchor="middle">7</text>
<text class="t" x="222.3" y="746" text-anchor="middle">8</text>
<text class="t" x="265.18" y="746" text-anchor="middle">9</text>
<text class="t" x="308.05" y="746" text-anchor="middle">10</text>
<text class="t" x="350.93" y="746" text-anchor="middle">11</text>
<text class="t" x="393.8" y="746" text-anchor="middle">12</text>
<text class="t" x="39.8" y="443.6" text-anchor="end">17</text>
<text class="t" x="39.8" y="500.78" text-anchor="end">16</text>
<text class="t" x="39.8" y="557.96" text-anchor="end">15</text>
<text class="t" x="39.8" y="615.14" text-anchor="end">14</text>
<text class="t" x="39.8" y="672.32" text-anchor="end">13</text>
<text class="t" x="39.8" y="729.5" text-anchor="end">12</text>
<text class="a" x="222.3" y="767.7" text-anchor="middle" textLength="83.5" lengthAdjust="spacing">MgO (wt %)</text>
<text class="a" transform="translate(11.9 581.95) rotate(-90)" text-anchor="middle" textLength="83.9" lengthAdjust="spacing">Al<tspan dy="3.5" font-size="9.5">2</tspan><tspan dy="-3.5">O</tspan><tspan dy="3.5" font-size="9.5">3</tspan><tspan dy="-3.5"> (wt %)</tspan></text>
<path d="M137.9 484.2h9.6M142.7 479.4v9.6" stroke="#231f20" stroke-width="2.2" fill="none"/>
<path d="M139.25 524.05l6.9 6.9M139.25 530.95l6.9 -6.9" stroke="#231f20" stroke-width="2.3" fill="none"/>
<circle cx="90" cy="640.4" r="3.6" fill="#fff" stroke="#231f20" stroke-width="1.9"/>
<circle cx="88" cy="649.9" r="3.6" fill="#fff" stroke="#231f20" stroke-width="1.9"/>
<circle cx="130" cy="654.1" r="4.75" fill="#231f20"/>
<circle cx="133.7" cy="664.9" r="4.75" fill="#231f20"/>
<circle cx="115.9" cy="674.5" r="4.75" fill="#231f20"/>
<circle cx="126" cy="673.9" r="4.75" fill="#231f20"/>
<circle cx="112.5" cy="682.1" r="4.75" fill="#231f20"/>
<rect x="261.6" y="649.9" width="7" height="7" fill="#231f20"/>
<rect x="266.6" y="658.1" width="7" height="7" fill="#231f20"/>
<rect x="285.1" y="661.1" width="7" height="7" fill="#231f20"/>
</g>
<g>
<path d="M535 607.4C534.8 605 535.7 602 537 600C538.2 597.9 540.1 596.2 542.5 595C544.8 593.7 547.9 592.9 551.2 592.5C554.5 592 558.1 592 562.5 592.2C566.8 592.4 572.5 593 577.4 593.7C582.4 594.4 587.4 595.3 592.4 596.2C597.4 597.1 602.8 598.2 607.4 599C612 599.7 616.4 600.5 619.9 601C623.5 601.4 625.3 601.7 628.7 601.5C632 601.2 635.9 600.4 639.9 599.2C643.9 598 649 595.8 652.4 594.5C655.7 593.1 656.6 592.5 660 591C663.4 589.5 669 587.1 672.5 585.7C676 584.3 678.6 583.4 681.3 582.8C684 582.2 686.1 581.9 688.8 581.9C691.5 581.9 694.9 582.3 697.6 582.8C700.3 583.3 702.6 583.9 705.1 584.8C707.6 585.7 710.3 586.8 712.6 588.2C714.9 589.6 717.1 591.3 718.9 593.2C720.7 595.1 722.1 597.2 723.3 599.4C724.5 601.6 725.6 604.1 726.2 606.3C726.9 608.5 727.3 610.6 727.2 612.6C727.1 614.6 726.7 616.5 725.8 618.2C724.9 619.9 723.6 621.4 722 622.6C720.4 623.8 718.8 624.5 716.4 625.5C714 626.5 710.7 627.5 707.6 628.6C704.5 629.7 701.4 630.8 697.6 632C693.9 633.2 689.3 634.7 685.1 636C680.9 637.3 676.7 638.7 672.5 639.9C668.3 641.1 664.4 642.3 660 643.3C655.6 644.3 651.2 645.1 646.1 645.7C641.1 646.2 635.1 646.5 629.9 646.7C624.7 646.9 619.9 647.2 614.9 646.9C609.9 646.6 604.9 645.9 599.9 644.9C594.9 644 589.9 642.6 584.9 641.2C579.9 639.7 574.7 638.1 570 636.2C565.2 634.3 560.4 632.2 556.2 629.9C552.1 627.6 548 624.9 545 622.4C541.9 619.9 539.6 617.4 538 614.9C536.3 612.4 535.1 609.9 535 607.4Z" fill="#f088b6" stroke="#7a3358" stroke-width="0.9"/>
<path d="M604.4 632.4C604 629.7 604.3 627.1 604.9 624.9C605.5 622.8 606.6 620.9 607.9 619.4C609.3 618 611.1 616.9 612.9 616.4C614.7 616 616.5 616.1 618.7 616.7C620.9 617.3 623.5 618.4 626.2 619.9C628.9 621.5 632 623.9 634.9 626.2C637.8 628.5 640.9 631.3 643.6 633.7C646.4 636.1 648.6 638.2 651.1 640.4C653.6 642.6 656.1 645.3 658.6 646.9C661.1 648.5 663 649.2 666.1 649.9C669.3 650.7 673 650.9 677.4 651.4C681.7 651.9 687 652.3 692.4 652.9C697.8 653.5 704 654.2 709.9 654.9C715.7 655.6 721.5 656.2 727.3 656.9C733.2 657.7 739 658.4 744.8 659.4C750.7 660.4 756.9 661.4 762.3 662.9C767.7 664.4 772.9 666.4 777.3 668.7C781.7 670.9 785.5 673.5 788.5 676.1C791.5 678.8 793.7 681.8 795.3 684.4C796.8 687 797.9 689.6 797.8 691.9C797.7 694.2 796.5 696.6 794.8 698.1C793 699.7 790.2 700.5 787.3 701.1C784.4 701.7 781 701.8 777.3 701.6C773.6 701.5 769.4 700.9 764.8 700.4C760.2 699.8 754.8 699 749.8 698.4C744.8 697.7 739.8 697 734.8 696.4C729.8 695.7 724.8 694.9 719.8 694.4C714.8 693.8 709.9 693.5 704.9 693.1C699.9 692.8 694.9 692.5 689.9 692.4C684.9 692.3 679.5 692.5 674.9 692.4C670.3 692.3 666.1 692.4 662.4 691.9C658.6 691.4 655.7 690.6 652.4 689.4C649.1 688.1 645.7 686.6 642.4 684.4C639.1 682.2 635.7 679.4 632.4 676.1C629.1 672.9 625.5 668.9 622.4 664.9C619.3 661 616.2 656.4 613.7 652.4C611.2 648.5 609 644.5 607.4 641.2C605.9 637.8 604.8 635.1 604.4 632.4Z" fill="#5bc5f2" stroke="#1f4d6b" stroke-width="0.9"/>
<clipPath id="cp4"><path d="M535 607.4C534.8 605 535.7 602 537 600C538.2 597.9 540.1 596.2 542.5 595C544.8 593.7 547.9 592.9 551.2 592.5C554.5 592 558.1 592 562.5 592.2C566.8 592.4 572.5 593 577.4 593.7C582.4 594.4 587.4 595.3 592.4 596.2C597.4 597.1 602.8 598.2 607.4 599C612 599.7 616.4 600.5 619.9 601C623.5 601.4 625.3 601.7 628.7 601.5C632 601.2 635.9 600.4 639.9 599.2C643.9 598 649 595.8 652.4 594.5C655.7 593.1 656.6 592.5 660 591C663.4 589.5 669 587.1 672.5 585.7C676 584.3 678.6 583.4 681.3 582.8C684 582.2 686.1 581.9 688.8 581.9C691.5 581.9 694.9 582.3 697.6 582.8C700.3 583.3 702.6 583.9 705.1 584.8C707.6 585.7 710.3 586.8 712.6 588.2C714.9 589.6 717.1 591.3 718.9 593.2C720.7 595.1 722.1 597.2 723.3 599.4C724.5 601.6 725.6 604.1 726.2 606.3C726.9 608.5 727.3 610.6 727.2 612.6C727.1 614.6 726.7 616.5 725.8 618.2C724.9 619.9 723.6 621.4 722 622.6C720.4 623.8 718.8 624.5 716.4 625.5C714 626.5 710.7 627.5 707.6 628.6C704.5 629.7 701.4 630.8 697.6 632C693.9 633.2 689.3 634.7 685.1 636C680.9 637.3 676.7 638.7 672.5 639.9C668.3 641.1 664.4 642.3 660 643.3C655.6 644.3 651.2 645.1 646.1 645.7C641.1 646.2 635.1 646.5 629.9 646.7C624.7 646.9 619.9 647.2 614.9 646.9C609.9 646.6 604.9 645.9 599.9 644.9C594.9 644 589.9 642.6 584.9 641.2C579.9 639.7 574.7 638.1 570 636.2C565.2 634.3 560.4 632.2 556.2 629.9C552.1 627.6 548 624.9 545 622.4C541.9 619.9 539.6 617.4 538 614.9C536.3 612.4 535.1 609.9 535 607.4Z"/></clipPath><clipPath id="cq4"><path d="M604.4 632.4C604 629.7 604.3 627.1 604.9 624.9C605.5 622.8 606.6 620.9 607.9 619.4C609.3 618 611.1 616.9 612.9 616.4C614.7 616 616.5 616.1 618.7 616.7C620.9 617.3 623.5 618.4 626.2 619.9C628.9 621.5 632 623.9 634.9 626.2C637.8 628.5 640.9 631.3 643.6 633.7C646.4 636.1 648.6 638.2 651.1 640.4C653.6 642.6 656.1 645.3 658.6 646.9C661.1 648.5 663 649.2 666.1 649.9C669.3 650.7 673 650.9 677.4 651.4C681.7 651.9 687 652.3 692.4 652.9C697.8 653.5 704 654.2 709.9 654.9C715.7 655.6 721.5 656.2 727.3 656.9C733.2 657.7 739 658.4 744.8 659.4C750.7 660.4 756.9 661.4 762.3 662.9C767.7 664.4 772.9 666.4 777.3 668.7C781.7 670.9 785.5 673.5 788.5 676.1C791.5 678.8 793.7 681.8 795.3 684.4C796.8 687 797.9 689.6 797.8 691.9C797.7 694.2 796.5 696.6 794.8 698.1C793 699.7 790.2 700.5 787.3 701.1C784.4 701.7 781 701.8 777.3 701.6C773.6 701.5 769.4 700.9 764.8 700.4C760.2 699.8 754.8 699 749.8 698.4C744.8 697.7 739.8 697 734.8 696.4C729.8 695.7 724.8 694.9 719.8 694.4C714.8 693.8 709.9 693.5 704.9 693.1C699.9 692.8 694.9 692.5 689.9 692.4C684.9 692.3 679.5 692.5 674.9 692.4C670.3 692.3 666.1 692.4 662.4 691.9C658.6 691.4 655.7 690.6 652.4 689.4C649.1 688.1 645.7 686.6 642.4 684.4C639.1 682.2 635.7 679.4 632.4 676.1C629.1 672.9 625.5 668.9 622.4 664.9C619.3 661 616.2 656.4 613.7 652.4C611.2 648.5 609 644.5 607.4 641.2C605.9 637.8 604.8 635.1 604.4 632.4Z"/></clipPath><path d="M604.4 632.4C604 629.7 604.3 627.1 604.9 624.9C605.5 622.8 606.6 620.9 607.9 619.4C609.3 618 611.1 616.9 612.9 616.4C614.7 616 616.5 616.1 618.7 616.7C620.9 617.3 623.5 618.4 626.2 619.9C628.9 621.5 632 623.9 634.9 626.2C637.8 628.5 640.9 631.3 643.6 633.7C646.4 636.1 648.6 638.2 651.1 640.4C653.6 642.6 656.1 645.3 658.6 646.9C661.1 648.5 663 649.2 666.1 649.9C669.3 650.7 673 650.9 677.4 651.4C681.7 651.9 687 652.3 692.4 652.9C697.8 653.5 704 654.2 709.9 654.9C715.7 655.6 721.5 656.2 727.3 656.9C733.2 657.7 739 658.4 744.8 659.4C750.7 660.4 756.9 661.4 762.3 662.9C767.7 664.4 772.9 666.4 777.3 668.7C781.7 670.9 785.5 673.5 788.5 676.1C791.5 678.8 793.7 681.8 795.3 684.4C796.8 687 797.9 689.6 797.8 691.9C797.7 694.2 796.5 696.6 794.8 698.1C793 699.7 790.2 700.5 787.3 701.1C784.4 701.7 781 701.8 777.3 701.6C773.6 701.5 769.4 700.9 764.8 700.4C760.2 699.8 754.8 699 749.8 698.4C744.8 697.7 739.8 697 734.8 696.4C729.8 695.7 724.8 694.9 719.8 694.4C714.8 693.8 709.9 693.5 704.9 693.1C699.9 692.8 694.9 692.5 689.9 692.4C684.9 692.3 679.5 692.5 674.9 692.4C670.3 692.3 666.1 692.4 662.4 691.9C658.6 691.4 655.7 690.6 652.4 689.4C649.1 688.1 645.7 686.6 642.4 684.4C639.1 682.2 635.7 679.4 632.4 676.1C629.1 672.9 625.5 668.9 622.4 664.9C619.3 661 616.2 656.4 613.7 652.4C611.2 648.5 609 644.5 607.4 641.2C605.9 637.8 604.8 635.1 604.4 632.4Z" fill="#8d86c1" clip-path="url(#cp4)"/><path d="M535 607.4C534.8 605 535.7 602 537 600C538.2 597.9 540.1 596.2 542.5 595C544.8 593.7 547.9 592.9 551.2 592.5C554.5 592 558.1 592 562.5 592.2C566.8 592.4 572.5 593 577.4 593.7C582.4 594.4 587.4 595.3 592.4 596.2C597.4 597.1 602.8 598.2 607.4 599C612 599.7 616.4 600.5 619.9 601C623.5 601.4 625.3 601.7 628.7 601.5C632 601.2 635.9 600.4 639.9 599.2C643.9 598 649 595.8 652.4 594.5C655.7 593.1 656.6 592.5 660 591C663.4 589.5 669 587.1 672.5 585.7C676 584.3 678.6 583.4 681.3 582.8C684 582.2 686.1 581.9 688.8 581.9C691.5 581.9 694.9 582.3 697.6 582.8C700.3 583.3 702.6 583.9 705.1 584.8C707.6 585.7 710.3 586.8 712.6 588.2C714.9 589.6 717.1 591.3 718.9 593.2C720.7 595.1 722.1 597.2 723.3 599.4C724.5 601.6 725.6 604.1 726.2 606.3C726.9 608.5 727.3 610.6 727.2 612.6C727.1 614.6 726.7 616.5 725.8 618.2C724.9 619.9 723.6 621.4 722 622.6C720.4 623.8 718.8 624.5 716.4 625.5C714 626.5 710.7 627.5 707.6 628.6C704.5 629.7 701.4 630.8 697.6 632C693.9 633.2 689.3 634.7 685.1 636C680.9 637.3 676.7 638.7 672.5 639.9C668.3 641.1 664.4 642.3 660 643.3C655.6 644.3 651.2 645.1 646.1 645.7C641.1 646.2 635.1 646.5 629.9 646.7C624.7 646.9 619.9 647.2 614.9 646.9C609.9 646.6 604.9 645.9 599.9 644.9C594.9 644 589.9 642.6 584.9 641.2C579.9 639.7 574.7 638.1 570 636.2C565.2 634.3 560.4 632.2 556.2 629.9C552.1 627.6 548 624.9 545 622.4C541.9 619.9 539.6 617.4 538 614.9C536.3 612.4 535.1 609.9 535 607.4Z" fill="none" stroke="#7a3358" stroke-width="0.9"/><path d="M604.4 632.4C604 629.7 604.3 627.1 604.9 624.9C605.5 622.8 606.6 620.9 607.9 619.4C609.3 618 611.1 616.9 612.9 616.4C614.7 616 616.5 616.1 618.7 616.7C620.9 617.3 623.5 618.4 626.2 619.9C628.9 621.5 632 623.9 634.9 626.2C637.8 628.5 640.9 631.3 643.6 633.7C646.4 636.1 648.6 638.2 651.1 640.4C653.6 642.6 656.1 645.3 658.6 646.9C661.1 648.5 663 649.2 666.1 649.9C669.3 650.7 673 650.9 677.4 651.4C681.7 651.9 687 652.3 692.4 652.9C697.8 653.5 704 654.2 709.9 654.9C715.7 655.6 721.5 656.2 727.3 656.9C733.2 657.7 739 658.4 744.8 659.4C750.7 660.4 756.9 661.4 762.3 662.9C767.7 664.4 772.9 666.4 777.3 668.7C781.7 670.9 785.5 673.5 788.5 676.1C791.5 678.8 793.7 681.8 795.3 684.4C796.8 687 797.9 689.6 797.8 691.9C797.7 694.2 796.5 696.6 794.8 698.1C793 699.7 790.2 700.5 787.3 701.1C784.4 701.7 781 701.8 777.3 701.6C773.6 701.5 769.4 700.9 764.8 700.4C760.2 699.8 754.8 699 749.8 698.4C744.8 697.7 739.8 697 734.8 696.4C729.8 695.7 724.8 694.9 719.8 694.4C714.8 693.8 709.9 693.5 704.9 693.1C699.9 692.8 694.9 692.5 689.9 692.4C684.9 692.3 679.5 692.5 674.9 692.4C670.3 692.3 666.1 692.4 662.4 691.9C658.6 691.4 655.7 690.6 652.4 689.4C649.1 688.1 645.7 686.6 642.4 684.4C639.1 682.2 635.7 679.4 632.4 676.1C629.1 672.9 625.5 668.9 622.4 664.9C619.3 661 616.2 656.4 613.7 652.4C611.2 648.5 609 644.5 607.4 641.2C605.9 637.8 604.8 635.1 604.4 632.4Z" fill="none" stroke="#1f4d6b" stroke-width="0.9"/><path d="M535 607.4C534.8 605 535.7 602 537 600C538.2 597.9 540.1 596.2 542.5 595C544.8 593.7 547.9 592.9 551.2 592.5C554.5 592 558.1 592 562.5 592.2C566.8 592.4 572.5 593 577.4 593.7C582.4 594.4 587.4 595.3 592.4 596.2C597.4 597.1 602.8 598.2 607.4 599C612 599.7 616.4 600.5 619.9 601C623.5 601.4 625.3 601.7 628.7 601.5C632 601.2 635.9 600.4 639.9 599.2C643.9 598 649 595.8 652.4 594.5C655.7 593.1 656.6 592.5 660 591C663.4 589.5 669 587.1 672.5 585.7C676 584.3 678.6 583.4 681.3 582.8C684 582.2 686.1 581.9 688.8 581.9C691.5 581.9 694.9 582.3 697.6 582.8C700.3 583.3 702.6 583.9 705.1 584.8C707.6 585.7 710.3 586.8 712.6 588.2C714.9 589.6 717.1 591.3 718.9 593.2C720.7 595.1 722.1 597.2 723.3 599.4C724.5 601.6 725.6 604.1 726.2 606.3C726.9 608.5 727.3 610.6 727.2 612.6C727.1 614.6 726.7 616.5 725.8 618.2C724.9 619.9 723.6 621.4 722 622.6C720.4 623.8 718.8 624.5 716.4 625.5C714 626.5 710.7 627.5 707.6 628.6C704.5 629.7 701.4 630.8 697.6 632C693.9 633.2 689.3 634.7 685.1 636C680.9 637.3 676.7 638.7 672.5 639.9C668.3 641.1 664.4 642.3 660 643.3C655.6 644.3 651.2 645.1 646.1 645.7C641.1 646.2 635.1 646.5 629.9 646.7C624.7 646.9 619.9 647.2 614.9 646.9C609.9 646.6 604.9 645.9 599.9 644.9C594.9 644 589.9 642.6 584.9 641.2C579.9 639.7 574.7 638.1 570 636.2C565.2 634.3 560.4 632.2 556.2 629.9C552.1 627.6 548 624.9 545 622.4C541.9 619.9 539.6 617.4 538 614.9C536.3 612.4 535.1 609.9 535 607.4Z" fill="none" stroke="#1d4a86" stroke-width="1" clip-path="url(#cq4)"/>
<path d="M472.5 439H815.5V724.9H472.5ZM472.5 724.9v7.3M515.38 724.9v7.3M558.25 724.9v7.3M601.12 724.9v7.3M644 724.9v7.3M686.88 724.9v7.3M729.75 724.9v7.3M772.62 724.9v7.3M815.5 724.9v7.3M472.5 439h-7.3M472.5 510.48h-7.3M472.5 581.95h-7.3M472.5 653.42h-7.3M472.5 724.9h-7.3" fill="none" stroke="#231f20" stroke-width="1.6"/>
<text class="t" x="472.5" y="746" text-anchor="middle">4</text>
<text class="t" x="515.38" y="746" text-anchor="middle">5</text>
<text class="t" x="558.25" y="746" text-anchor="middle">6</text>
<text class="t" x="601.12" y="746" text-anchor="middle">7</text>
<text class="t" x="644" y="746" text-anchor="middle">8</text>
<text class="t" x="686.88" y="746" text-anchor="middle">9</text>
<text class="t" x="729.75" y="746" text-anchor="middle">10</text>
<text class="t" x="772.62" y="746" text-anchor="middle">11</text>
<text class="t" x="815.5" y="746" text-anchor="middle">12</text>
<text class="t" x="461.5" y="443.6" text-anchor="end">50</text>
<text class="t" x="461.5" y="515.08" text-anchor="end">40</text>
<text class="t" x="461.5" y="586.55" text-anchor="end">30</text>
<text class="t" x="461.5" y="658.02" text-anchor="end">20</text>
<text class="t" x="461.5" y="729.5" text-anchor="end">0</text>
<text class="a" x="644" y="767.7" text-anchor="middle" textLength="83.5" lengthAdjust="spacing">MgO (wt %)</text>
<text class="a" transform="translate(432.4 582.25) rotate(-90)" text-anchor="middle" textLength="56.1" lengthAdjust="spacing">Y (ppm)</text>
<circle cx="509.7" cy="465.3" r="3.6" fill="#fff" stroke="#231f20" stroke-width="1.9"/>
<circle cx="504.9" cy="518.5" r="3.6" fill="#fff" stroke="#231f20" stroke-width="1.9"/>
<circle cx="537.7" cy="529.7" r="4.75" fill="#231f20"/>
<circle cx="546.9" cy="537.7" r="4.75" fill="#231f20"/>
<circle cx="532.8" cy="545.6" r="4.75" fill="#231f20"/>
<circle cx="554.9" cy="547" r="4.75" fill="#231f20"/>
<circle cx="557.1" cy="573.7" r="4.75" fill="#231f20"/>
<path d="M559.05 631.95l6.9 6.9M559.05 638.85l6.9 -6.9" stroke="#231f20" stroke-width="2.3" fill="none"/>
<path d="M557.7 648.9h9.6M562.5 644.1v9.6" stroke="#231f20" stroke-width="2.2" fill="none"/>
<rect x="684.4" y="632.9" width="7" height="7" fill="#231f20"/>
<rect x="679.4" y="642.4" width="7" height="7" fill="#231f20"/>
<rect x="699.6" y="640.9" width="7" height="7" fill="#231f20"/>
</g>
<g>
<path d="M957 667.3C956.6 664.9 957.4 662.3 958.5 659.8C959.6 657.3 961.3 654.6 963.5 652.4C965.6 650.1 968.3 648.3 971.5 646.1C974.7 643.9 978.8 641.7 982.7 639.4C986.7 637 990.8 634.7 995.2 631.9C999.6 629 1005.5 625.1 1008.9 622.4C1012.4 619.6 1013.2 617.9 1016 615.3C1018.8 612.7 1022.6 609.4 1026 606.5C1029.3 603.6 1032.8 600.6 1036.1 597.7C1039.4 594.8 1041.9 592.5 1046.1 589C1050.3 585.5 1056.9 579.9 1061.1 576.4C1065.3 572.9 1067.8 570.7 1071.2 567.7C1074.6 564.7 1077.9 561.4 1081.2 558.3C1084.5 555.2 1087.9 551.8 1091.2 548.9C1094.5 546 1097.9 543.2 1101.2 540.7C1104.5 538.2 1108.2 535.6 1111.3 533.8C1114.4 532 1117.6 530.7 1120 529.8C1122.4 528.9 1123.7 528.4 1125.5 528.5C1127.3 528.6 1129.4 529.1 1130.9 530.3C1132.4 531.5 1133.5 533.6 1134.3 535.5C1135.1 537.4 1135.5 539.6 1135.8 541.8C1136.1 544 1136.2 546 1136 548.5C1135.8 551 1135.2 554 1134.3 556.8C1133.3 559.5 1131.7 562.7 1130.3 565C1128.9 567.3 1127.9 568.7 1126 570.4C1124.1 572.1 1121.5 573.5 1118.8 575C1116.1 576.5 1112.9 578 1110 579.6C1107.1 581.2 1104.1 582.8 1101.2 584.6C1098.3 586.4 1095.4 588.2 1092.5 590.2C1089.6 592.2 1086.6 594.2 1083.7 596.5C1080.8 598.8 1077.6 601.6 1074.9 604C1072.2 606.4 1069.6 608.9 1067.4 610.9C1065.2 612.9 1064.5 613.9 1061.8 616C1059.1 618.1 1054.8 620.7 1051.4 623.6C1048 626.6 1044.8 630.5 1041.4 633.6C1038.1 636.7 1035 639.4 1031.4 642.4C1027.9 645.3 1023.9 648.3 1020.2 651.1C1016.4 653.9 1012.7 656.7 1008.9 659.3C1005.2 662 1001.4 664.6 997.7 666.8C994 669.1 990 671.2 986.5 672.8C982.9 674.5 979.6 676.1 976.5 676.8C973.3 677.6 970.3 677.7 967.7 677.3C965.1 676.9 962.8 676 961 674.3C959.2 672.7 957.4 669.8 957 667.3Z" fill="#f088b6" stroke="#7a3358" stroke-width="0.9"/>
<path d="M1026.9 636.1C1026.4 634 1025.9 631.3 1026.4 628.6C1027 625.9 1028.5 623 1030.2 619.9C1031.9 616.8 1034.4 613.1 1036.4 609.9C1038.4 606.7 1040.3 604.1 1042.3 600.5C1044.3 596.9 1046.9 591.9 1048.6 588.5C1050.3 585.1 1051.4 582.4 1052.4 580C1053.4 577.6 1053.6 575.9 1054.4 573.9C1055.2 571.9 1055.9 570 1057.4 567.7C1058.9 565.4 1061.1 562.8 1063.6 560.2C1066.1 557.6 1069.3 554.7 1072.4 552C1075.5 549.3 1078.9 546.7 1082.4 543.9C1086 541.1 1089.7 538.1 1093.7 535.1C1097.7 532.1 1102 528.8 1106.2 525.7C1110.4 522.6 1114.6 519.4 1118.8 516.3C1123 513.2 1127.9 509.5 1131.3 506.9C1134.7 504.2 1135.7 503.1 1139.1 500.4C1142.5 497.7 1147.5 494 1151.7 490.7C1155.9 487.4 1160.5 483.8 1164.2 480.7C1168 477.6 1171.3 474.3 1174.2 471.9C1177.1 469.5 1179.4 467.6 1181.7 466.3C1184 465 1186.1 464.3 1188 463.8C1189.9 463.3 1191.1 463.2 1193 463.2C1194.9 463.2 1197.2 463.3 1199.3 463.8C1201.4 464.3 1203.5 465.2 1205.5 466.3C1207.5 467.4 1209.5 468.5 1211.2 470.1C1212.9 471.7 1214.3 473.6 1215.6 475.7C1216.8 477.8 1217.9 480.2 1218.7 482.6C1219.5 485 1220.1 487.4 1220.6 490.1C1221.1 492.8 1221.5 496 1221.5 498.9C1221.5 501.8 1221.3 504.7 1220.8 507.6C1220.3 510.5 1219.7 513.9 1218.7 516.4C1217.7 518.9 1216.5 520.8 1214.9 522.9C1213.3 525 1211.5 527.2 1209.3 529C1207.1 530.8 1204.5 532.5 1201.8 533.8C1199.1 535.1 1195.5 536.2 1193 537C1190.5 537.8 1189.2 538.1 1186.5 538.8C1183.8 539.5 1179.8 540.2 1176.5 541.3C1173.2 542.3 1169.6 543.6 1166.5 545.1C1163.4 546.6 1160.4 548.2 1157.7 550.1C1155 552 1152.5 554.1 1150.2 556.3C1147.9 558.5 1145.9 560.8 1143.9 563.2C1141.9 565.6 1140.2 568.1 1138.3 570.8C1136.4 573.5 1134.5 576.7 1132.7 579.5C1130.9 582.3 1129.3 585.1 1127.6 587.7C1125.9 590.3 1124.3 593 1122.6 595.2C1120.9 597.4 1119.5 599.3 1117.6 600.8C1115.7 602.3 1113.7 603.5 1111.4 604.2C1109.1 604.9 1106.5 605.2 1103.8 605.2C1101.1 605.2 1098 604.4 1095.1 604.2C1092.2 604 1089.2 603.4 1086.3 604C1083.4 604.6 1080.2 606.1 1077.5 607.7C1074.8 609.3 1072.7 610.8 1070 613.4C1067.3 616 1064.1 620.4 1061.4 623.6C1058.7 626.8 1056.4 629.7 1053.9 632.4C1051.4 635.1 1048.7 637.9 1046.4 639.9C1044.1 641.9 1042.3 643.4 1040.2 644.1C1038.1 644.8 1035.7 644.6 1033.9 644.1C1032.1 643.6 1030.6 642.4 1029.4 641.1C1028.2 639.8 1027.4 638.2 1026.9 636.1Z" fill="#5bc5f2" stroke="#1f4d6b" stroke-width="0.9"/>
<clipPath id="cp5"><path d="M957 667.3C956.6 664.9 957.4 662.3 958.5 659.8C959.6 657.3 961.3 654.6 963.5 652.4C965.6 650.1 968.3 648.3 971.5 646.1C974.7 643.9 978.8 641.7 982.7 639.4C986.7 637 990.8 634.7 995.2 631.9C999.6 629 1005.5 625.1 1008.9 622.4C1012.4 619.6 1013.2 617.9 1016 615.3C1018.8 612.7 1022.6 609.4 1026 606.5C1029.3 603.6 1032.8 600.6 1036.1 597.7C1039.4 594.8 1041.9 592.5 1046.1 589C1050.3 585.5 1056.9 579.9 1061.1 576.4C1065.3 572.9 1067.8 570.7 1071.2 567.7C1074.6 564.7 1077.9 561.4 1081.2 558.3C1084.5 555.2 1087.9 551.8 1091.2 548.9C1094.5 546 1097.9 543.2 1101.2 540.7C1104.5 538.2 1108.2 535.6 1111.3 533.8C1114.4 532 1117.6 530.7 1120 529.8C1122.4 528.9 1123.7 528.4 1125.5 528.5C1127.3 528.6 1129.4 529.1 1130.9 530.3C1132.4 531.5 1133.5 533.6 1134.3 535.5C1135.1 537.4 1135.5 539.6 1135.8 541.8C1136.1 544 1136.2 546 1136 548.5C1135.8 551 1135.2 554 1134.3 556.8C1133.3 559.5 1131.7 562.7 1130.3 565C1128.9 567.3 1127.9 568.7 1126 570.4C1124.1 572.1 1121.5 573.5 1118.8 575C1116.1 576.5 1112.9 578 1110 579.6C1107.1 581.2 1104.1 582.8 1101.2 584.6C1098.3 586.4 1095.4 588.2 1092.5 590.2C1089.6 592.2 1086.6 594.2 1083.7 596.5C1080.8 598.8 1077.6 601.6 1074.9 604C1072.2 606.4 1069.6 608.9 1067.4 610.9C1065.2 612.9 1064.5 613.9 1061.8 616C1059.1 618.1 1054.8 620.7 1051.4 623.6C1048 626.6 1044.8 630.5 1041.4 633.6C1038.1 636.7 1035 639.4 1031.4 642.4C1027.9 645.3 1023.9 648.3 1020.2 651.1C1016.4 653.9 1012.7 656.7 1008.9 659.3C1005.2 662 1001.4 664.6 997.7 666.8C994 669.1 990 671.2 986.5 672.8C982.9 674.5 979.6 676.1 976.5 676.8C973.3 677.6 970.3 677.7 967.7 677.3C965.1 676.9 962.8 676 961 674.3C959.2 672.7 957.4 669.8 957 667.3Z"/></clipPath><clipPath id="cq5"><path d="M1026.9 636.1C1026.4 634 1025.9 631.3 1026.4 628.6C1027 625.9 1028.5 623 1030.2 619.9C1031.9 616.8 1034.4 613.1 1036.4 609.9C1038.4 606.7 1040.3 604.1 1042.3 600.5C1044.3 596.9 1046.9 591.9 1048.6 588.5C1050.3 585.1 1051.4 582.4 1052.4 580C1053.4 577.6 1053.6 575.9 1054.4 573.9C1055.2 571.9 1055.9 570 1057.4 567.7C1058.9 565.4 1061.1 562.8 1063.6 560.2C1066.1 557.6 1069.3 554.7 1072.4 552C1075.5 549.3 1078.9 546.7 1082.4 543.9C1086 541.1 1089.7 538.1 1093.7 535.1C1097.7 532.1 1102 528.8 1106.2 525.7C1110.4 522.6 1114.6 519.4 1118.8 516.3C1123 513.2 1127.9 509.5 1131.3 506.9C1134.7 504.2 1135.7 503.1 1139.1 500.4C1142.5 497.7 1147.5 494 1151.7 490.7C1155.9 487.4 1160.5 483.8 1164.2 480.7C1168 477.6 1171.3 474.3 1174.2 471.9C1177.1 469.5 1179.4 467.6 1181.7 466.3C1184 465 1186.1 464.3 1188 463.8C1189.9 463.3 1191.1 463.2 1193 463.2C1194.9 463.2 1197.2 463.3 1199.3 463.8C1201.4 464.3 1203.5 465.2 1205.5 466.3C1207.5 467.4 1209.5 468.5 1211.2 470.1C1212.9 471.7 1214.3 473.6 1215.6 475.7C1216.8 477.8 1217.9 480.2 1218.7 482.6C1219.5 485 1220.1 487.4 1220.6 490.1C1221.1 492.8 1221.5 496 1221.5 498.9C1221.5 501.8 1221.3 504.7 1220.8 507.6C1220.3 510.5 1219.7 513.9 1218.7 516.4C1217.7 518.9 1216.5 520.8 1214.9 522.9C1213.3 525 1211.5 527.2 1209.3 529C1207.1 530.8 1204.5 532.5 1201.8 533.8C1199.1 535.1 1195.5 536.2 1193 537C1190.5 537.8 1189.2 538.1 1186.5 538.8C1183.8 539.5 1179.8 540.2 1176.5 541.3C1173.2 542.3 1169.6 543.6 1166.5 545.1C1163.4 546.6 1160.4 548.2 1157.7 550.1C1155 552 1152.5 554.1 1150.2 556.3C1147.9 558.5 1145.9 560.8 1143.9 563.2C1141.9 565.6 1140.2 568.1 1138.3 570.8C1136.4 573.5 1134.5 576.7 1132.7 579.5C1130.9 582.3 1129.3 585.1 1127.6 587.7C1125.9 590.3 1124.3 593 1122.6 595.2C1120.9 597.4 1119.5 599.3 1117.6 600.8C1115.7 602.3 1113.7 603.5 1111.4 604.2C1109.1 604.9 1106.5 605.2 1103.8 605.2C1101.1 605.2 1098 604.4 1095.1 604.2C1092.2 604 1089.2 603.4 1086.3 604C1083.4 604.6 1080.2 606.1 1077.5 607.7C1074.8 609.3 1072.7 610.8 1070 613.4C1067.3 616 1064.1 620.4 1061.4 623.6C1058.7 626.8 1056.4 629.7 1053.9 632.4C1051.4 635.1 1048.7 637.9 1046.4 639.9C1044.1 641.9 1042.3 643.4 1040.2 644.1C1038.1 644.8 1035.7 644.6 1033.9 644.1C1032.1 643.6 1030.6 642.4 1029.4 641.1C1028.2 639.8 1027.4 638.2 1026.9 636.1Z"/></clipPath><path d="M1026.9 636.1C1026.4 634 1025.9 631.3 1026.4 628.6C1027 625.9 1028.5 623 1030.2 619.9C1031.9 616.8 1034.4 613.1 1036.4 609.9C1038.4 606.7 1040.3 604.1 1042.3 600.5C1044.3 596.9 1046.9 591.9 1048.6 588.5C1050.3 585.1 1051.4 582.4 1052.4 580C1053.4 577.6 1053.6 575.9 1054.4 573.9C1055.2 571.9 1055.9 570 1057.4 567.7C1058.9 565.4 1061.1 562.8 1063.6 560.2C1066.1 557.6 1069.3 554.7 1072.4 552C1075.5 549.3 1078.9 546.7 1082.4 543.9C1086 541.1 1089.7 538.1 1093.7 535.1C1097.7 532.1 1102 528.8 1106.2 525.7C1110.4 522.6 1114.6 519.4 1118.8 516.3C1123 513.2 1127.9 509.5 1131.3 506.9C1134.7 504.2 1135.7 503.1 1139.1 500.4C1142.5 497.7 1147.5 494 1151.7 490.7C1155.9 487.4 1160.5 483.8 1164.2 480.7C1168 477.6 1171.3 474.3 1174.2 471.9C1177.1 469.5 1179.4 467.6 1181.7 466.3C1184 465 1186.1 464.3 1188 463.8C1189.9 463.3 1191.1 463.2 1193 463.2C1194.9 463.2 1197.2 463.3 1199.3 463.8C1201.4 464.3 1203.5 465.2 1205.5 466.3C1207.5 467.4 1209.5 468.5 1211.2 470.1C1212.9 471.7 1214.3 473.6 1215.6 475.7C1216.8 477.8 1217.9 480.2 1218.7 482.6C1219.5 485 1220.1 487.4 1220.6 490.1C1221.1 492.8 1221.5 496 1221.5 498.9C1221.5 501.8 1221.3 504.7 1220.8 507.6C1220.3 510.5 1219.7 513.9 1218.7 516.4C1217.7 518.9 1216.5 520.8 1214.9 522.9C1213.3 525 1211.5 527.2 1209.3 529C1207.1 530.8 1204.5 532.5 1201.8 533.8C1199.1 535.1 1195.5 536.2 1193 537C1190.5 537.8 1189.2 538.1 1186.5 538.8C1183.8 539.5 1179.8 540.2 1176.5 541.3C1173.2 542.3 1169.6 543.6 1166.5 545.1C1163.4 546.6 1160.4 548.2 1157.7 550.1C1155 552 1152.5 554.1 1150.2 556.3C1147.9 558.5 1145.9 560.8 1143.9 563.2C1141.9 565.6 1140.2 568.1 1138.3 570.8C1136.4 573.5 1134.5 576.7 1132.7 579.5C1130.9 582.3 1129.3 585.1 1127.6 587.7C1125.9 590.3 1124.3 593 1122.6 595.2C1120.9 597.4 1119.5 599.3 1117.6 600.8C1115.7 602.3 1113.7 603.5 1111.4 604.2C1109.1 604.9 1106.5 605.2 1103.8 605.2C1101.1 605.2 1098 604.4 1095.1 604.2C1092.2 604 1089.2 603.4 1086.3 604C1083.4 604.6 1080.2 606.1 1077.5 607.7C1074.8 609.3 1072.7 610.8 1070 613.4C1067.3 616 1064.1 620.4 1061.4 623.6C1058.7 626.8 1056.4 629.7 1053.9 632.4C1051.4 635.1 1048.7 637.9 1046.4 639.9C1044.1 641.9 1042.3 643.4 1040.2 644.1C1038.1 644.8 1035.7 644.6 1033.9 644.1C1032.1 643.6 1030.6 642.4 1029.4 641.1C1028.2 639.8 1027.4 638.2 1026.9 636.1Z" fill="#8d86c1" clip-path="url(#cp5)"/><path d="M957 667.3C956.6 664.9 957.4 662.3 958.5 659.8C959.6 657.3 961.3 654.6 963.5 652.4C965.6 650.1 968.3 648.3 971.5 646.1C974.7 643.9 978.8 641.7 982.7 639.4C986.7 637 990.8 634.7 995.2 631.9C999.6 629 1005.5 625.1 1008.9 622.4C1012.4 619.6 1013.2 617.9 1016 615.3C1018.8 612.7 1022.6 609.4 1026 606.5C1029.3 603.6 1032.8 600.6 1036.1 597.7C1039.4 594.8 1041.9 592.5 1046.1 589C1050.3 585.5 1056.9 579.9 1061.1 576.4C1065.3 572.9 1067.8 570.7 1071.2 567.7C1074.6 564.7 1077.9 561.4 1081.2 558.3C1084.5 555.2 1087.9 551.8 1091.2 548.9C1094.5 546 1097.9 543.2 1101.2 540.7C1104.5 538.2 1108.2 535.6 1111.3 533.8C1114.4 532 1117.6 530.7 1120 529.8C1122.4 528.9 1123.7 528.4 1125.5 528.5C1127.3 528.6 1129.4 529.1 1130.9 530.3C1132.4 531.5 1133.5 533.6 1134.3 535.5C1135.1 537.4 1135.5 539.6 1135.8 541.8C1136.1 544 1136.2 546 1136 548.5C1135.8 551 1135.2 554 1134.3 556.8C1133.3 559.5 1131.7 562.7 1130.3 565C1128.9 567.3 1127.9 568.7 1126 570.4C1124.1 572.1 1121.5 573.5 1118.8 575C1116.1 576.5 1112.9 578 1110 579.6C1107.1 581.2 1104.1 582.8 1101.2 584.6C1098.3 586.4 1095.4 588.2 1092.5 590.2C1089.6 592.2 1086.6 594.2 1083.7 596.5C1080.8 598.8 1077.6 601.6 1074.9 604C1072.2 606.4 1069.6 608.9 1067.4 610.9C1065.2 612.9 1064.5 613.9 1061.8 616C1059.1 618.1 1054.8 620.7 1051.4 623.6C1048 626.6 1044.8 630.5 1041.4 633.6C1038.1 636.7 1035 639.4 1031.4 642.4C1027.9 645.3 1023.9 648.3 1020.2 651.1C1016.4 653.9 1012.7 656.7 1008.9 659.3C1005.2 662 1001.4 664.6 997.7 666.8C994 669.1 990 671.2 986.5 672.8C982.9 674.5 979.6 676.1 976.5 676.8C973.3 677.6 970.3 677.7 967.7 677.3C965.1 676.9 962.8 676 961 674.3C959.2 672.7 957.4 669.8 957 667.3Z" fill="none" stroke="#7a3358" stroke-width="0.9"/><path d="M1026.9 636.1C1026.4 634 1025.9 631.3 1026.4 628.6C1027 625.9 1028.5 623 1030.2 619.9C1031.9 616.8 1034.4 613.1 1036.4 609.9C1038.4 606.7 1040.3 604.1 1042.3 600.5C1044.3 596.9 1046.9 591.9 1048.6 588.5C1050.3 585.1 1051.4 582.4 1052.4 580C1053.4 577.6 1053.6 575.9 1054.4 573.9C1055.2 571.9 1055.9 570 1057.4 567.7C1058.9 565.4 1061.1 562.8 1063.6 560.2C1066.1 557.6 1069.3 554.7 1072.4 552C1075.5 549.3 1078.9 546.7 1082.4 543.9C1086 541.1 1089.7 538.1 1093.7 535.1C1097.7 532.1 1102 528.8 1106.2 525.7C1110.4 522.6 1114.6 519.4 1118.8 516.3C1123 513.2 1127.9 509.5 1131.3 506.9C1134.7 504.2 1135.7 503.1 1139.1 500.4C1142.5 497.7 1147.5 494 1151.7 490.7C1155.9 487.4 1160.5 483.8 1164.2 480.7C1168 477.6 1171.3 474.3 1174.2 471.9C1177.1 469.5 1179.4 467.6 1181.7 466.3C1184 465 1186.1 464.3 1188 463.8C1189.9 463.3 1191.1 463.2 1193 463.2C1194.9 463.2 1197.2 463.3 1199.3 463.8C1201.4 464.3 1203.5 465.2 1205.5 466.3C1207.5 467.4 1209.5 468.5 1211.2 470.1C1212.9 471.7 1214.3 473.6 1215.6 475.7C1216.8 477.8 1217.9 480.2 1218.7 482.6C1219.5 485 1220.1 487.4 1220.6 490.1C1221.1 492.8 1221.5 496 1221.5 498.9C1221.5 501.8 1221.3 504.7 1220.8 507.6C1220.3 510.5 1219.7 513.9 1218.7 516.4C1217.7 518.9 1216.5 520.8 1214.9 522.9C1213.3 525 1211.5 527.2 1209.3 529C1207.1 530.8 1204.5 532.5 1201.8 533.8C1199.1 535.1 1195.5 536.2 1193 537C1190.5 537.8 1189.2 538.1 1186.5 538.8C1183.8 539.5 1179.8 540.2 1176.5 541.3C1173.2 542.3 1169.6 543.6 1166.5 545.1C1163.4 546.6 1160.4 548.2 1157.7 550.1C1155 552 1152.5 554.1 1150.2 556.3C1147.9 558.5 1145.9 560.8 1143.9 563.2C1141.9 565.6 1140.2 568.1 1138.3 570.8C1136.4 573.5 1134.5 576.7 1132.7 579.5C1130.9 582.3 1129.3 585.1 1127.6 587.7C1125.9 590.3 1124.3 593 1122.6 595.2C1120.9 597.4 1119.5 599.3 1117.6 600.8C1115.7 602.3 1113.7 603.5 1111.4 604.2C1109.1 604.9 1106.5 605.2 1103.8 605.2C1101.1 605.2 1098 604.4 1095.1 604.2C1092.2 604 1089.2 603.4 1086.3 604C1083.4 604.6 1080.2 606.1 1077.5 607.7C1074.8 609.3 1072.7 610.8 1070 613.4C1067.3 616 1064.1 620.4 1061.4 623.6C1058.7 626.8 1056.4 629.7 1053.9 632.4C1051.4 635.1 1048.7 637.9 1046.4 639.9C1044.1 641.9 1042.3 643.4 1040.2 644.1C1038.1 644.8 1035.7 644.6 1033.9 644.1C1032.1 643.6 1030.6 642.4 1029.4 641.1C1028.2 639.8 1027.4 638.2 1026.9 636.1Z" fill="none" stroke="#1f4d6b" stroke-width="0.9"/><path d="M957 667.3C956.6 664.9 957.4 662.3 958.5 659.8C959.6 657.3 961.3 654.6 963.5 652.4C965.6 650.1 968.3 648.3 971.5 646.1C974.7 643.9 978.8 641.7 982.7 639.4C986.7 637 990.8 634.7 995.2 631.9C999.6 629 1005.5 625.1 1008.9 622.4C1012.4 619.6 1013.2 617.9 1016 615.3C1018.8 612.7 1022.6 609.4 1026 606.5C1029.3 603.6 1032.8 600.6 1036.1 597.7C1039.4 594.8 1041.9 592.5 1046.1 589C1050.3 585.5 1056.9 579.9 1061.1 576.4C1065.3 572.9 1067.8 570.7 1071.2 567.7C1074.6 564.7 1077.9 561.4 1081.2 558.3C1084.5 555.2 1087.9 551.8 1091.2 548.9C1094.5 546 1097.9 543.2 1101.2 540.7C1104.5 538.2 1108.2 535.6 1111.3 533.8C1114.4 532 1117.6 530.7 1120 529.8C1122.4 528.9 1123.7 528.4 1125.5 528.5C1127.3 528.6 1129.4 529.1 1130.9 530.3C1132.4 531.5 1133.5 533.6 1134.3 535.5C1135.1 537.4 1135.5 539.6 1135.8 541.8C1136.1 544 1136.2 546 1136 548.5C1135.8 551 1135.2 554 1134.3 556.8C1133.3 559.5 1131.7 562.7 1130.3 565C1128.9 567.3 1127.9 568.7 1126 570.4C1124.1 572.1 1121.5 573.5 1118.8 575C1116.1 576.5 1112.9 578 1110 579.6C1107.1 581.2 1104.1 582.8 1101.2 584.6C1098.3 586.4 1095.4 588.2 1092.5 590.2C1089.6 592.2 1086.6 594.2 1083.7 596.5C1080.8 598.8 1077.6 601.6 1074.9 604C1072.2 606.4 1069.6 608.9 1067.4 610.9C1065.2 612.9 1064.5 613.9 1061.8 616C1059.1 618.1 1054.8 620.7 1051.4 623.6C1048 626.6 1044.8 630.5 1041.4 633.6C1038.1 636.7 1035 639.4 1031.4 642.4C1027.9 645.3 1023.9 648.3 1020.2 651.1C1016.4 653.9 1012.7 656.7 1008.9 659.3C1005.2 662 1001.4 664.6 997.7 666.8C994 669.1 990 671.2 986.5 672.8C982.9 674.5 979.6 676.1 976.5 676.8C973.3 677.6 970.3 677.7 967.7 677.3C965.1 676.9 962.8 676 961 674.3C959.2 672.7 957.4 669.8 957 667.3Z" fill="none" stroke="#1d4a86" stroke-width="1" clip-path="url(#cq5)"/>
<path d="M894 439H1237V724.9H894ZM894 724.9v7.3M936.88 724.9v7.3M979.75 724.9v7.3M1022.62 724.9v7.3M1065.5 724.9v7.3M1108.38 724.9v7.3M1151.25 724.9v7.3M1194.12 724.9v7.3M1237 724.9v7.3M894 439h-7.3M894 496.18h-7.3M894 553.36h-7.3M894 610.54h-7.3M894 667.72h-7.3M894 724.9h-7.3" fill="none" stroke="#231f20" stroke-width="1.6"/>
<text class="t" x="894" y="746" text-anchor="middle">4</text>
<text class="t" x="936.88" y="746" text-anchor="middle">5</text>
<text class="t" x="979.75" y="746" text-anchor="middle">6</text>
<text class="t" x="1022.62" y="746" text-anchor="middle">7</text>
<text class="t" x="1065.5" y="746" text-anchor="middle">8</text>
<text class="t" x="1108.38" y="746" text-anchor="middle">9</text>
<text class="t" x="1151.25" y="746" text-anchor="middle">10</text>
<text class="t" x="1194.12" y="746" text-anchor="middle">11</text>
<text class="t" x="1237" y="746" text-anchor="middle">12</text>
<text class="t" x="883" y="443.6" text-anchor="end">1000</text>
<text class="t" x="883" y="500.78" text-anchor="end">800</text>
<text class="t" x="883" y="557.96" text-anchor="end">600</text>
<text class="t" x="883" y="615.14" text-anchor="end">400</text>
<text class="t" x="883" y="672.32" text-anchor="end">200</text>
<text class="t" x="883" y="729.5" text-anchor="end">0</text>
<text class="a" x="1065.5" y="767.7" text-anchor="middle" textLength="83.5" lengthAdjust="spacing">MgO (wt %)</text>
<text class="a" transform="translate(847.4 581.65) rotate(-90)" text-anchor="middle" textLength="61.3" lengthAdjust="spacing">Cr (ppm)</text>
<path d="M978.45 656.35l6.9 6.9M978.45 663.25l6.9 -6.9" stroke="#231f20" stroke-width="2.3" fill="none"/>
<path d="M976.5 681h9.6M981.3 676.2v9.6" stroke="#231f20" stroke-width="2.2" fill="none"/>
<circle cx="967" cy="688.7" r="4.75" fill="#231f20"/>
<circle cx="954.9" cy="699.8" r="4.75" fill="#231f20"/>
<circle cx="962.1" cy="698.9" r="4.75" fill="#231f20"/>
<circle cx="976.7" cy="700.1" r="4.75" fill="#231f20"/>
<circle cx="972.5" cy="714.9" r="4.75" fill="#231f20"/>
<circle cx="926.3" cy="713.6" r="3.6" fill="#fff" stroke="#231f20" stroke-width="1.9"/>
<circle cx="936.7" cy="718" r="3.6" fill="#fff" stroke="#231f20" stroke-width="1.9"/>
<rect x="1122.6" y="539.2" width="7" height="7" fill="#231f20"/>
<rect x="1104.6" y="548.9" width="7" height="7" fill="#231f20"/>
<rect x="1101.9" y="559.2" width="7" height="7" fill="#231f20"/>
</g>
<text x="1236.8" y="7.5" text-anchor="end" font-size="10" textLength="53" lengthAdjust="spacingAndGlyphs">E1516001-7</text>
<text class="l" x="51.4" y="796.2" textLength="125.2" lengthAdjust="spacingAndGlyphs">EARLY JURASSIC</text>
<rect x="50.8" y="803.8" width="57" height="42.2" fill="#f088b6" stroke="#5a3a4a" stroke-width="0.8"/>
<rect x="50.8" y="853.7" width="57" height="42" fill="#5bc5f2" stroke="#2b3a55" stroke-width="0.8"/>
<text class="l" x="116.6" y="829.3" textLength="208.9" lengthAdjust="spacingAndGlyphs">“North–South dykes” (n = 30)</text>
<text class="l" x="116.6" y="879.3" textLength="190.9" lengthAdjust="spacingAndGlyphs">“East–West dykes” (n = 12)</text>
<text class="l" x="51.6" y="914.8" textLength="140.7" lengthAdjust="spacingAndGlyphs">Mitchell <tspan class="i">et al.</tspan> (1999)</text>
<path d="M381.6 825.4h9.6M386.4 820.6v9.6" stroke="#231f20" stroke-width="2.2" fill="none"/>
<path d="M382.95 864.95l6.9 6.9M382.95 871.85l6.9 -6.9" stroke="#231f20" stroke-width="2.3" fill="none"/>
<rect x="382.9" y="906.5" width="7" height="7" fill="#231f20"/>
<text class="l" x="423" y="829.3" textLength="88" lengthAdjust="spacingAndGlyphs">Lively Island</text>
<text class="l" x="423" y="872.2" textLength="88" lengthAdjust="spacingAndGlyphs">Lively Island</text>
<text class="l" x="423" y="914.6" textLength="82.7" lengthAdjust="spacingAndGlyphs">Port Sussex</text>
<text class="l" x="548.1" y="829.3" textLength="140.7" lengthAdjust="spacingAndGlyphs">Mitchell <tspan class="i">et al.</tspan> (1999)</text>
<text class="l" x="547.8" y="893.6" textLength="87.2" lengthAdjust="spacingAndGlyphs">Stone (2013)</text>
<path d="M529.1 849.3C533.6 850.2 536.8 853.4 536.8 858.6V879.4C536.8 884.4 539.4 887.6 543.7 888.7C539.4 889.8 536.8 893 536.8 898V918.9C536.8 924.1 533.6 927.3 529.1 928.2" fill="none" stroke="#231f20" stroke-width="1.3"/>
<text class="l" x="894.3" y="796.2" textLength="151.2" lengthAdjust="spacingAndGlyphs">EARLY CRETACEOUS</text>
<circle cx="922.6" cy="825.3" r="4.75" fill="#231f20"/>
<text class="l" x="959.6" y="829.4" textLength="274.7" lengthAdjust="spacingAndGlyphs">Teal Creek, Pony’s Pass and Peat Banks</text>
<text class="l" x="894.3" y="858" textLength="88.2" lengthAdjust="spacingAndGlyphs">Stone (2013)</text>
<circle cx="922.6" cy="882.3" r="3.6" fill="#fff" stroke="#231f20" stroke-width="1.9"/>
<text class="l" x="959.6" y="886.9" textLength="117.7" lengthAdjust="spacingAndGlyphs">“Evolved group”</text>
<text class="l" x="894.3" y="915.3" textLength="141.1" lengthAdjust="spacingAndGlyphs">Mitchell <tspan class="i">et al.</tspan> (1999)</text>
</svg></body></html>
